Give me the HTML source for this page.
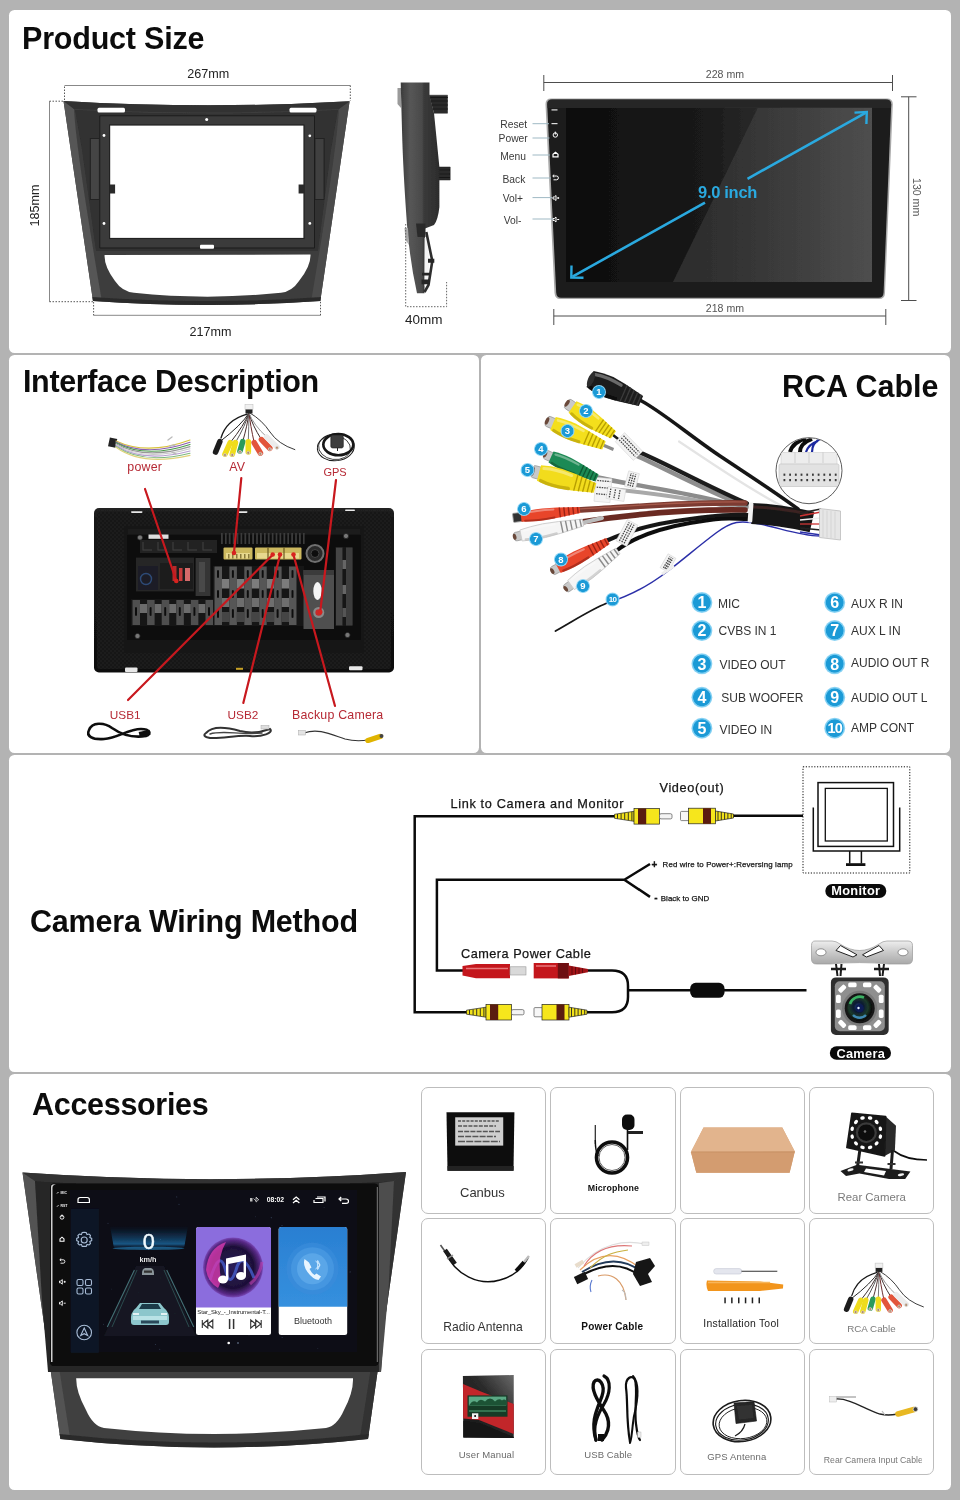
<!DOCTYPE html>
<html lang="en">
<head>
<meta charset="utf-8">
<title>Product Size, Interface Description, RCA Cable, Camera Wiring Method, Accessories</title>
<style>
html,body{margin:0;padding:0;}
body{width:960px;height:1500px;background:#b3b3b3;position:relative;overflow:hidden;font-family:"Liberation Sans",sans-serif;color:#111;}
.panel{position:absolute;background:#fff;border-radius:5.5px;}
.layer{will-change:transform;position:absolute;left:0;top:0;width:960px;height:1500px;overflow:hidden;}
svg text{font-family:"Liberation Sans",sans-serif;}
h2{will-change:transform;position:absolute;margin:0;font-weight:bold;font-size:30.5px;line-height:30px;color:#0c0c0c;white-space:nowrap;}
.card{position:absolute;width:124px;height:125px;border:1px solid #bdbdbd;border-radius:7px;background:#fff;box-sizing:content-box;}
.lbl{position:absolute;white-space:nowrap;line-height:1;}
</style>
</head>
<body>
<div class="panel" style="left:8.75px;top:10px;width:941.75px;height:342.8px;"></div>
<div class="panel" style="left:8.75px;top:354.8px;width:470.2px;height:398.6px;"></div>
<div class="panel" style="left:480.9px;top:354.8px;width:469.6px;height:398.6px;"></div>
<div class="panel" style="left:8.75px;top:755.4px;width:941.75px;height:316.2px;"></div>
<div class="panel" style="left:8.75px;top:1073.5px;width:941.75px;height:416px;"></div>
<h2 style="left:22px;top:23px;letter-spacing:-0.2px;">Product Size</h2>
<h2 style="left:22.6px;top:365.5px;letter-spacing:-0.36px;">Interface Description</h2>
<h2 style="left:782px;top:371px;">RCA Cable</h2>
<h2 style="left:29.5px;top:905.5px;letter-spacing:-0.2px;">Camera Wiring Method</h2>
<h2 style="left:32px;top:1088.5px;letter-spacing:-0.3px;">Accessories</h2>
<svg class="layer" viewBox="0 0 960 1500" width="960" height="1500">
<defs>
<linearGradient id="frG" x1="0" y1="0" x2="1" y2="0">
<stop offset="0" stop-color="#5b5b5b"/><stop offset="0.06" stop-color="#4a4a4a"/><stop offset="0.1" stop-color="#333"/><stop offset="0.5" stop-color="#3a3a3a"/><stop offset="0.9" stop-color="#323232"/><stop offset="0.95" stop-color="#444"/><stop offset="1" stop-color="#3a3a3a"/>
</linearGradient>
<linearGradient id="sideG" x1="0" y1="0" x2="1" y2="0">
<stop offset="0" stop-color="#3c3c3c"/><stop offset="0.25" stop-color="#565656"/><stop offset="0.55" stop-color="#4a4a4a"/><stop offset="0.6" stop-color="#3a3a3a"/><stop offset="1" stop-color="#2c2c2c"/>
</linearGradient>
<linearGradient id="scrG" x1="0" y1="0" x2="1" y2="0">
<stop offset="0" stop-color="#0d0d0d"/><stop offset="0.45" stop-color="#1a1a1a"/><stop offset="0.75" stop-color="#343434"/><stop offset="1" stop-color="#4b4b4b"/>
</linearGradient>
<linearGradient id="glossG" x1="0" y1="0" x2="1" y2="0">
<stop offset="0" stop-color="#fff" stop-opacity="0.10"/><stop offset="1" stop-color="#fff" stop-opacity="0.02"/>
</linearGradient>
<filter id="b05"><feGaussianBlur stdDeviation="0.5"/></filter>
<filter id="b1"><feGaussianBlur stdDeviation="1"/></filter>
</defs>
<!-- dimension dotted lines for frame -->
<g fill="none" stroke="#7a7a7a" stroke-width="0.9">
<path d="M64.5 85.5H350.3M49.5 101.2V301.7M93.6 315.3H320.5"/>
</g>
<g fill="none" stroke="#444" stroke-width="0.9" stroke-dasharray="1.5 1.5">
<path d="M64.5 100V85.5M350.3 85.5V101"/>
<path d="M63 101.2H49.5M49.5 301.7H93"/>
<path d="M93.6 302V315.3M320.5 315.3V301"/>
</g>
<!-- front frame -->
<g filter="url(#b05)">
<path d="M63.5 101 Q207 109.5 349.6 101.3 L320.3 301 Q207 309 93 301 Z M109.6 125 V238.5 H304 V125 Z M104.6 255 Q104 266 115 281 Q122 291.5 134 292.8 Q207 300.5 281 292.8 Q292 291.5 299 281 Q311 266 310.5 254.6 Z" fill="#3e3e3e" fill-rule="evenodd"/>
<path d="M63.5 101 L74 109 Q76 150 101.5 299 L93 301Z" fill="#565656"/>
<path d="M349.6 101.3 L339 109 Q337 150 311.5 299 L320.3 301Z" fill="#4c4c4c"/>
<path d="M63.5 101 Q207 109.5 349.6 101.3 L339 109 Q207 116 74 109Z" fill="#333"/>
<path d="M75 110 Q207 117 338 110 L331 150 L318 251 L96 251 L82 150Z M109.6 125 V238.5 H304 V125 Z" fill="#303030" fill-rule="evenodd"/>
<path d="M99.8 115.8 H314.5 V248 H99.8 Z M109.6 125 V238.5 H304 V125 Z" fill="#3b3b3b" fill-rule="evenodd"/>
<path d="M99.8 115.8 H314.5 V248 H99.8 Z" fill="none" stroke="#1e1e1e" stroke-width="1"/>
<rect x="109.6" y="125" width="194.4" height="113.5" fill="none" stroke="#222" stroke-width="1.2"/>
<rect x="90.3" y="138.5" width="9" height="61" fill="#454545" stroke="#1f1f1f" stroke-width="0.8"/>
<rect x="315" y="138.5" width="9" height="61" fill="#404040" stroke="#1f1f1f" stroke-width="0.8"/>
<rect x="109.6" y="184.5" width="5.5" height="9" fill="#2a2a2a"/><rect x="298.6" y="184.5" width="5.5" height="9" fill="#2a2a2a"/>
<g fill="#fff">
<rect x="97.5" y="107.8" width="27.5" height="4.6" rx="1.5"/>
<rect x="289.5" y="107.8" width="27" height="4.6" rx="1.5"/>
<rect x="200" y="244.8" width="14" height="4" rx="1"/>
<circle cx="206.7" cy="119.4" r="1.5"/><circle cx="104" cy="135.5" r="1.4"/><circle cx="104" cy="223.5" r="1.4"/><circle cx="309.8" cy="135.8" r="1.4"/><circle cx="309.8" cy="223.4" r="1.4"/>
</g>
<path d="M93 301 Q207 309 320.3 301 L321 297 Q207 305 92.5 297Z" fill="#2c2c2c"/>
</g>
<!-- side view -->
<g filter="url(#b05)">
<path d="M429 95.2H447.5V113.2H434 M439 167H450.2V180H439" fill="#2b2b2b" stroke="#222" stroke-width="0.5"/>
<path d="M430 97.5H448M430 101H448M430 105H448M430 109H448M439 170H450M439 174H450M439 177.5H450" stroke="#111" stroke-width="0.8"/>
<path d="M397.5 88 L401 88 L401 108 L397.5 104Z" fill="#9a9a9a"/>
<path d="M400.7 82.6 H429.5 V95 L434 113 L439.4 167 V207 Q438 220 434 225 L425 228.5 L424.5 293.2 H417 Q410 262 407 225 Q403 170 402 130 Z" fill="url(#sideG)"/>
<path d="M416 223.5 H425.5 V237 H417.5Z" fill="#2b2b2b"/>
<path d="M424.6 238 L427 238 L429.5 262 L427.5 284 L424.6 286Z" fill="#f4f4f4"/>
<path d="M426.3 232 L432.3 261 L428.5 285 L424.5 292" fill="none" stroke="#2e2e2e" stroke-width="2.6"/>
<path d="M428 258.8H434.3V262.8H428ZM422 272.8H429.6V275.4H422ZM421.5 279.6H429.6V284.2H421.5Z" fill="#262626"/>
<path d="M404.5 228 L408 228 L409 245 L405.5 240Z" fill="#aaa"/>
</g>
<g fill="none" stroke="#555" stroke-width="0.9" stroke-dasharray="1.5 1.5">
<path d="M405.7 224V306.7H446.6V282"/>
</g>
<!-- device -->
<g filter="url(#b05)">
<path d="M551 98.5 H887 Q893 98.5 892.8 104.5 L885 293 Q884.8 299 879 299 H560 Q555 299 554.5 293 L545.5 104.5 Q545.3 98.5 551 98.5Z" fill="#a8a8a8"/>
<path d="M552 99.6 H886 Q891.3 99.6 891.2 104.5 L883.6 292.5 Q883.4 297.8 878.5 297.8 H561 Q556.5 297.8 556.2 292.5 L547.2 104.5 Q547 99.6 552 99.6Z" fill="#1b1b1b"/>
<rect x="566" y="107.5" width="306" height="174.5" fill="url(#scrG)"/>
<path d="M758 107.5 H872 V282 H673 Z" fill="url(#glossG)"/>
<path d="M547.2 104.5 Q547 99.6 552 99.6 H886 Q891.3 99.6 891.2 104.5 L891 108 H547.4Z" fill="#2e2e2e" opacity="0.7"/>
</g>
<!-- device icons -->
<g fill="none" stroke="#fff" stroke-width="1">
<circle cx="555.3" cy="135" r="2.2"/><path d="M555.3 131.6v3" />
<path d="M553 156.8v-2.6l2.5-2 2.5 2v2.6z" stroke-width="1.2"/>
<path d="M553 176h3.5a1.9 1.9 0 0 1 0 3.8H553.5M554.2 174.6l-1.5 1.4 1.5 1.4" />
<path d="M553 197h1.3l1.7-1.5v5l-1.7-1.5H553zM557.2 198h2M558.2 197v2"/>
<path d="M553 218.5h1.3l1.7-1.5v5l-1.7-1.5H553zM557.2 219.5h2"/>
</g>
<g fill="#ddd"><rect x="551.5" y="109.3" width="6" height="1.2"/><rect x="551.5" y="123" width="6" height="1.2"/></g>
<!-- label leader lines -->
<g stroke="#9fb9c4" stroke-width="1">
<path d="M532.5 123.7H549M532.5 138H549.5M532.5 155H550M532.5 178H551M532.5 197.6H552M532.5 219H553"/>
</g>
<g font-size="10.3" fill="#3a3a3a">
<text x="500.3" y="127.5">Reset</text>
<text x="498.6" y="142.4">Power</text>
<text x="500.3" y="159.6">Menu</text>
<text x="502.5" y="182.6">Back</text>
<text x="502.8" y="202">Vol+</text>
<text x="503.8" y="223.8">Vol-</text>
</g>
<!-- arrow -->
<g fill="none" stroke="#2aa9df" stroke-width="2.6" stroke-linecap="butt">
<path d="M572.5 276.7 L705 202.6M747.5 178.8 L865.5 112.8"/>
<path d="M571.5 265.5 L571.3 277.6 L583.5 277.8" stroke-width="2.4"/>
<path d="M854.5 112.6 L866.8 112 L866.4 124" stroke-width="2.4"/>
</g>
<text x="698" y="197.6" font-size="16.5" font-weight="bold" fill="#2aa9df" letter-spacing="-0.3">9.0 inch</text>
<!-- device dims -->
<g stroke="#4d4d4d" stroke-width="1" fill="none">
<path d="M543.8 82.5H892.5M543.8 75V91M892.5 75V91"/>
<path d="M553.8 316H885.8M553.8 309V325M885.8 309V325"/>
<path d="M908.7 96.8V300.5M901 96.8H916.5M901 300.5H916.5"/>
</g>
<g font-size="10.6" fill="#555">
<text x="705.8" y="78">228 mm</text>
<text x="705.8" y="312">218 mm</text>
<text transform="translate(913.2 178) rotate(90)">130 mm</text>
</g>
<g font-size="12.6" fill="#222">
<text x="187.3" y="77.8">267mm</text>
<text x="189.4" y="335.8">217mm</text>
<text x="405" y="324.4" font-size="13.5">40mm</text>
<text transform="translate(38.8 226.5) rotate(-90)">185mm</text>
</g>
</svg>
<svg class="layer" viewBox="0 0 960 1500" width="960" height="1500">
<defs><pattern id="carb" width="4" height="4" patternUnits="userSpaceOnUse"><rect width="4" height="4" fill="#171717"/><rect width="2" height="2" fill="#1f1f1f"/><rect x="2" y="2" width="2" height="2" fill="#1d1d1d"/></pattern><linearGradient id="unitG" x1="0" y1="0" x2="0" y2="1"><stop offset="0" stop-color="#222"/><stop offset="0.08" stop-color="#151515"/><stop offset="1" stop-color="#101010"/></linearGradient></defs>
<g fill="none" stroke-linecap="round" filter="url(#b05)">
<rect x="109" y="438" width="7.5" height="9" fill="#222" stroke="none" transform="rotate(12 112 442)"/>
<path d="M116 441.0 C135 450.0 160 451.0 190 440.0" stroke="#d8c23a" stroke-width="1.1"/>
<path d="M116 441.9 C135 451.6 160 452.6 190 442.2" stroke="#8a5fb0" stroke-width="1.1"/>
<path d="M116 442.8 C135 453.2 160 454.2 190 444.4" stroke="#4a9a4a" stroke-width="1.1"/>
<path d="M116 443.7 C135 454.8 160 455.8 190 446.6" stroke="#999" stroke-width="1.1"/>
<path d="M116 444.6 C135 456.4 160 457.4 190 448.8" stroke="#c9c9c9" stroke-width="1.1"/>
<path d="M116 445.5 C135 458.0 160 459.0 190 451.0" stroke="#b7a0d0" stroke-width="1.1"/>
<path d="M116 446.4 C135 459.6 160 460.6 190 453.2" stroke="#7fb87f" stroke-width="1.1"/>
<path d="M116 447.3 C135 461.2 160 462.2 190 455.4" stroke="#e0d27a" stroke-width="1.1"/>
<path d="M168 440l4-3M170 446l5-1M172 452l4 2" stroke="#bbb" stroke-width="1.4"/>
</g>
<g filter="url(#b05)"><g fill="none" stroke-linecap="round"><path d="M249.0 413.0 Q241.7 425.0 219.8 441.7" stroke="#222" stroke-width="1.00"/><path d="M249.0 413.0 Q244.3 425.0 230.2 442.7" stroke="#3a2a2a" stroke-width="1.00"/><path d="M249.0 413.0 Q245.6 425.0 235.4 442.7" stroke="#555" stroke-width="1.00"/><path d="M249.0 413.0 Q247.4 425.0 242.7 441.7" stroke="#4a3030" stroke-width="1.00"/><path d="M249.0 413.0 Q248.8 425.0 248.3 441.7" stroke="#777" stroke-width="1.00"/><path d="M249.0 413.0 Q250.3 425.0 254.2 442.7" stroke="#6a2a2a" stroke-width="1.00"/><path d="M249.0 413.0 Q252.1 425.0 261.5 439.6" stroke="#3a2a2a" stroke-width="1.00"/><path d="M249.0 413.0 Q253.4 425.0 266.7 437.0" stroke="#999" stroke-width="1.00"/><path d="M250.0 413.0 Q262.0 420.0 270.0 432.0 T294.8 449.6" stroke="#222" stroke-width="0.90"/><path d="M247.0 414.0 Q226.0 420.0 221.0 438.0" stroke="#1a1a1a" stroke-width="1.30"/><path d="M219.8 441.7L215.6 452.0" stroke="#1e1e1e" stroke-width="5.60"/><path d="M230.2 442.7L225.0 454.2" stroke="#efdc1a" stroke-width="5.60"/><circle cx="225.0" cy="455.0" r="1.50" fill="#b08a6a" stroke="#ddd" stroke-width="0.600"/><path d="M235.4 442.7L232.3 454.2" stroke="#efdc1a" stroke-width="5.60"/><circle cx="232.3" cy="455.0" r="1.50" fill="#b08a6a" stroke="#ddd" stroke-width="0.600"/><path d="M242.7 441.7L240.0 451.0" stroke="#2a9a5c" stroke-width="5.60"/><circle cx="240.0" cy="451.8" r="1.50" fill="#b08a6a" stroke="#ddd" stroke-width="0.600"/><path d="M248.3 441.7L248.3 452.0" stroke="#efdc1a" stroke-width="5.60"/><circle cx="248.3" cy="452.8" r="1.50" fill="#b08a6a" stroke="#ddd" stroke-width="0.600"/><path d="M254.2 442.7L260.4 453.0" stroke="#e2543a" stroke-width="5.60"/><circle cx="260.4" cy="453.8" r="1.50" fill="#b08a6a" stroke="#ddd" stroke-width="0.600"/><path d="M261.5 439.6L269.8 448.3" stroke="#e2543a" stroke-width="5.60"/><circle cx="269.8" cy="449.1" r="1.50" fill="#b08a6a" stroke="#ddd" stroke-width="0.600"/><path d="M266.7 437.0L277.0 446.9" stroke="#ececec" stroke-width="5.60"/><circle cx="277.0" cy="447.7" r="1.50" fill="#b08a6a" stroke="#ddd" stroke-width="0.600"/><rect x="245.0" y="404.5" width="8.0" height="5.0" fill="#f0f0f0" stroke="#bbb" stroke-width="0.500"/><rect x="245.5" y="409.5" width="7.0" height="4.0" fill="#222"/></g></g>
<g fill="none" filter="url(#b05)"><ellipse cx="335.800" cy="447.200" rx="18.500" ry="13.500" stroke="#1a1a1a" stroke-width="1" transform="rotate(-6 335.800 447.200)"/><ellipse cx="334.500" cy="447.500" rx="16" ry="12" stroke="#222" stroke-width="0.800" transform="rotate(8 334.500 447.500)"/><ellipse cx="338.300" cy="444.600" rx="15" ry="10.600" stroke="#151515" stroke-width="2.600"/><rect x="330.800" y="435" width="12.500" height="13" rx="1.800" fill="#3c3c3c" stroke="#1a1a1a" stroke-width="0.600"/><path d="M337.500 448v3" stroke="#222" stroke-width="1"/></g>
<g filter="url(#b05)">
<rect x="94" y="508" width="300" height="164.500" rx="5" fill="url(#unitG)"/>
<rect x="97" y="512" width="294" height="157" rx="3" fill="url(#carb)" opacity="0.9"/><rect x="124" y="525.500" width="240" height="128" fill="#161616"/>
<rect x="127.500" y="528.500" width="233" height="122" fill="#0b0b0b"/>
<rect x="127.500" y="528.500" width="233" height="6" fill="#1c1c1c"/>
<rect x="127.500" y="640" width="233" height="10.500" fill="#161616"/>
<rect x="140" y="540" width="77" height="13" fill="#202020"/>
<path d="M143 542v8h9" fill="none" stroke="#3a3a3a" stroke-width="1.3"/>
<path d="M158 542v8h9" fill="none" stroke="#3a3a3a" stroke-width="1.3"/>
<path d="M173 542v8h9" fill="none" stroke="#3a3a3a" stroke-width="1.3"/>
<path d="M188 542v8h9" fill="none" stroke="#3a3a3a" stroke-width="1.3"/>
<path d="M203 542v8h9" fill="none" stroke="#3a3a3a" stroke-width="1.3"/>
<rect x="221.0" y="533" width="1.800" height="11" fill="#3a3a3a"/>
<rect x="224.9" y="533" width="1.800" height="11" fill="#3a3a3a"/>
<rect x="228.8" y="533" width="1.800" height="11" fill="#3a3a3a"/>
<rect x="232.7" y="533" width="1.800" height="11" fill="#3a3a3a"/>
<rect x="236.6" y="533" width="1.800" height="11" fill="#3a3a3a"/>
<rect x="240.5" y="533" width="1.800" height="11" fill="#3a3a3a"/>
<rect x="244.4" y="533" width="1.800" height="11" fill="#3a3a3a"/>
<rect x="248.3" y="533" width="1.800" height="11" fill="#3a3a3a"/>
<rect x="252.2" y="533" width="1.800" height="11" fill="#3a3a3a"/>
<rect x="256.1" y="533" width="1.800" height="11" fill="#3a3a3a"/>
<rect x="260.0" y="533" width="1.800" height="11" fill="#3a3a3a"/>
<rect x="263.9" y="533" width="1.800" height="11" fill="#3a3a3a"/>
<rect x="267.8" y="533" width="1.800" height="11" fill="#3a3a3a"/>
<rect x="271.7" y="533" width="1.800" height="11" fill="#3a3a3a"/>
<rect x="275.6" y="533" width="1.800" height="11" fill="#3a3a3a"/>
<rect x="279.5" y="533" width="1.800" height="11" fill="#3a3a3a"/>
<rect x="283.4" y="533" width="1.800" height="11" fill="#3a3a3a"/>
<rect x="287.3" y="533" width="1.800" height="11" fill="#3a3a3a"/>
<rect x="291.2" y="533" width="1.800" height="11" fill="#3a3a3a"/>
<rect x="295.1" y="533" width="1.800" height="11" fill="#3a3a3a"/>
<rect x="299.0" y="533" width="1.800" height="11" fill="#3a3a3a"/>
<rect x="302.9" y="533" width="1.800" height="11" fill="#3a3a3a"/>
<rect x="223.500" y="547.500" width="29" height="12" rx="1" fill="#cdb95e"/><rect x="226" y="553" width="24" height="5.500" fill="#e7d88e"/>
<rect x="255" y="547.500" width="46.500" height="12" rx="1" fill="#cdb95e"/><rect x="257" y="553" width="42" height="5.500" fill="#e7d88e"/>
<path d="M268 547.500v12M284 547.500v12" stroke="#6b5a20" stroke-width="1.2"/>
<rect x="228" y="554" width="1.500" height="4.500" fill="#8a7a3a"/>
<rect x="232" y="554" width="1.500" height="4.500" fill="#8a7a3a"/>
<rect x="236" y="554" width="1.500" height="4.500" fill="#8a7a3a"/>
<rect x="240" y="554" width="1.500" height="4.500" fill="#8a7a3a"/>
<rect x="244" y="554" width="1.500" height="4.500" fill="#8a7a3a"/>
<rect x="248" y="554" width="1.500" height="4.500" fill="#8a7a3a"/>
<circle cx="315" cy="553.500" r="8.500" fill="#2a2a2a" stroke="#707070" stroke-width="2"/><circle cx="315" cy="553.500" r="4" fill="#0a0a0a" stroke="#444" stroke-width="1"/>
<rect x="136" y="557.500" width="58" height="34" fill="#262626"/><rect x="138" y="566" width="20" height="24" fill="#1b1f26"/>
<circle cx="146" cy="579" r="5.500" fill="none" stroke="#2f4a78" stroke-width="1.4"/>
<rect x="160" y="563" width="33" height="26" fill="#1a1a1a"/>
<rect x="172.500" y="566" width="4" height="15" fill="#b52a2a"/><rect x="179" y="568" width="3.500" height="13" fill="#c83a3a"/><rect x="185" y="568" width="5" height="13" fill="#d56a6a"/>
<rect x="195.500" y="558" width="15" height="38" fill="#343434"/><rect x="199" y="562" width="6" height="30" fill="#4a4a4a"/>
<rect x="213" y="566" width="91" height="60" fill="#151515"/>
<rect x="214.5" y="566.500" width="7.500" height="58.500" fill="#565656"/>
<rect x="217.0" y="570" width="2" height="8" rx="1" fill="#111"/>
<rect x="217.0" y="590" width="2" height="8" rx="1" fill="#111"/>
<rect x="217.0" y="609" width="2" height="9" rx="1" fill="#111"/>
<rect x="222.0" y="579" width="7.400" height="9.500" fill="#7c7c7c"/>
<rect x="222.0" y="598" width="7.400" height="9" fill="#6e6e6e"/>
<rect x="222.0" y="612" width="7.400" height="10" fill="#444"/>
<rect x="229.4" y="566.500" width="7.500" height="58.500" fill="#565656"/>
<rect x="231.9" y="570" width="2" height="8" rx="1" fill="#111"/>
<rect x="231.9" y="590" width="2" height="8" rx="1" fill="#111"/>
<rect x="231.9" y="609" width="2" height="9" rx="1" fill="#111"/>
<rect x="236.9" y="579" width="7.400" height="9.500" fill="#7c7c7c"/>
<rect x="236.9" y="598" width="7.400" height="9" fill="#6e6e6e"/>
<rect x="236.9" y="612" width="7.400" height="10" fill="#444"/>
<rect x="244.3" y="566.500" width="7.500" height="58.500" fill="#565656"/>
<rect x="246.8" y="570" width="2" height="8" rx="1" fill="#111"/>
<rect x="246.8" y="590" width="2" height="8" rx="1" fill="#111"/>
<rect x="246.8" y="609" width="2" height="9" rx="1" fill="#111"/>
<rect x="251.8" y="579" width="7.400" height="9.500" fill="#7c7c7c"/>
<rect x="251.8" y="598" width="7.400" height="9" fill="#6e6e6e"/>
<rect x="251.8" y="612" width="7.400" height="10" fill="#444"/>
<rect x="259.2" y="566.500" width="7.500" height="58.500" fill="#565656"/>
<rect x="261.7" y="570" width="2" height="8" rx="1" fill="#111"/>
<rect x="261.7" y="590" width="2" height="8" rx="1" fill="#111"/>
<rect x="261.7" y="609" width="2" height="9" rx="1" fill="#111"/>
<rect x="266.7" y="579" width="7.400" height="9.500" fill="#7c7c7c"/>
<rect x="266.7" y="598" width="7.400" height="9" fill="#6e6e6e"/>
<rect x="266.7" y="612" width="7.400" height="10" fill="#444"/>
<rect x="274.1" y="566.500" width="7.500" height="58.500" fill="#565656"/>
<rect x="276.6" y="570" width="2" height="8" rx="1" fill="#111"/>
<rect x="276.6" y="590" width="2" height="8" rx="1" fill="#111"/>
<rect x="276.6" y="609" width="2" height="9" rx="1" fill="#111"/>
<rect x="281.6" y="579" width="7.400" height="9.500" fill="#7c7c7c"/>
<rect x="281.6" y="598" width="7.400" height="9" fill="#6e6e6e"/>
<rect x="281.6" y="612" width="7.400" height="10" fill="#444"/>
<rect x="289.0" y="566.500" width="7.500" height="58.500" fill="#565656"/>
<rect x="291.5" y="570" width="2" height="8" rx="1" fill="#111"/>
<rect x="291.5" y="590" width="2" height="8" rx="1" fill="#111"/>
<rect x="291.5" y="609" width="2" height="9" rx="1" fill="#111"/>
<rect x="131" y="599" width="82" height="27" fill="#151515"/>
<rect x="132.5" y="600" width="7.500" height="25" fill="#505050"/>
<rect x="135.0" y="607" width="2" height="9" rx="1" fill="#111"/>
<rect x="140.0" y="604" width="7" height="9" fill="#6c6c6c"/>
<rect x="147.1" y="600" width="7.500" height="25" fill="#505050"/>
<rect x="149.6" y="607" width="2" height="9" rx="1" fill="#111"/>
<rect x="154.6" y="604" width="7" height="9" fill="#6c6c6c"/>
<rect x="161.7" y="600" width="7.500" height="25" fill="#505050"/>
<rect x="164.2" y="607" width="2" height="9" rx="1" fill="#111"/>
<rect x="169.2" y="604" width="7" height="9" fill="#6c6c6c"/>
<rect x="176.3" y="600" width="7.500" height="25" fill="#505050"/>
<rect x="178.8" y="607" width="2" height="9" rx="1" fill="#111"/>
<rect x="183.8" y="604" width="7" height="9" fill="#6c6c6c"/>
<rect x="190.9" y="600" width="7.500" height="25" fill="#505050"/>
<rect x="193.4" y="607" width="2" height="9" rx="1" fill="#111"/>
<rect x="198.4" y="604" width="7" height="9" fill="#6c6c6c"/>
<rect x="205.5" y="600" width="7.500" height="25" fill="#505050"/>
<rect x="208.0" y="607" width="2" height="9" rx="1" fill="#111"/>
<rect x="303.500" y="570" width="30.500" height="59" fill="#505050"/><rect x="303.500" y="570" width="30.500" height="5" fill="#3a3a3a"/>
<ellipse cx="317.500" cy="591" rx="4.200" ry="9" fill="#f4f4f4"/>
<circle cx="318.700" cy="612.500" r="5.500" fill="#8a8a8a"/><circle cx="318.700" cy="612.500" r="3.300" fill="#c62a2a"/>
<rect x="335" y="547" width="18.500" height="79" fill="#151515"/>
<rect x="336" y="547.500" width="6.500" height="78" fill="#444"/><rect x="346" y="547.500" width="6.500" height="78" fill="#3e3e3e"/>
<rect x="342.500" y="560" width="3.500" height="9" fill="#666"/><rect x="342.500" y="585" width="3.500" height="9" fill="#666"/><rect x="342.500" y="608" width="3.500" height="9" fill="#555"/>
<circle cx="140" cy="537.5" r="2.600" fill="#777" stroke="#222" stroke-width="0.8"/>
<circle cx="137.5" cy="636" r="2.600" fill="#777" stroke="#222" stroke-width="0.8"/>
<circle cx="346" cy="536" r="2.600" fill="#777" stroke="#222" stroke-width="0.8"/>
<circle cx="347.5" cy="635" r="2.600" fill="#777" stroke="#222" stroke-width="0.8"/>
<rect x="148.500" y="534.500" width="20" height="4.300" fill="#ddd"/>
<g fill="#e8e8e8"><rect x="131" y="511.300" width="11.500" height="1.600" rx="0.800"/><rect x="237.500" y="511.300" width="10" height="1.600" rx="0.800"/><rect x="345" y="509.500" width="10" height="1.600" rx="0.800"/><rect x="125" y="667.500" width="12.500" height="4.500" rx="1"/><rect x="349" y="666.300" width="13.500" height="4" rx="1"/></g>
<rect x="236" y="667.800" width="7" height="2" fill="#c9a227"/>
</g>
<g stroke="#c8181e" stroke-width="2.2" stroke-linecap="round" fill="none">
<path d="M145 489L176 580M241.300 478L234 552.500M336 480L320.300 611M128 700L272.500 555M243.300 703L280 555M335 706L293.500 555"/>
</g>
<g fill="#d8231f"><circle cx="176.300" cy="581" r="2.300"/><circle cx="234" cy="553" r="2.300"/><circle cx="320.300" cy="612" r="2.300"/><circle cx="272.700" cy="554.500" r="2.300"/><circle cx="280" cy="554.500" r="2.300"/><circle cx="293.500" cy="554.500" r="2.300"/></g>
<g font-size="12.400" fill="#b62a35" letter-spacing="0.200">
<text x="127.300" y="471">power</text><text x="229.300" y="471">AV</text><text x="323.500" y="475.600" font-size="11" letter-spacing="-0.1">GPS</text>
<text x="109.800" y="719" font-size="11.8" letter-spacing="0">USB1</text><text x="227.500" y="719" font-size="11.8" letter-spacing="0">USB2</text><text x="292" y="719">Backup Camera</text>
</g>
<g fill="none" stroke-linecap="round" filter="url(#b05)">
<path d="M89 730 C92 722 104 722 112 728 C122 735 134 738 146 736 C152 734 150 729 141 729 C128 729 118 738 104 739 C92 740 86 736 89 730Z" stroke="#111" stroke-width="2.600"/>
<rect x="139" y="731" width="11" height="5" fill="#111" transform="rotate(-12 144 733)"/>
<path d="M206 733 C212 726 226 727 240 731 C252 734 262 732 270 729 C274 733 262 737 250 736 C236 735 222 739 210 738 C204 737 203 735 206 733Z" stroke="#333" stroke-width="2"/><path d="M210 734 C222 730 240 735 262 733" stroke="#444" stroke-width="1.400" fill="none"/>
<rect x="261" y="725.500" width="8" height="3.500" fill="#ddd" stroke="#aaa" stroke-width="0.500"/>
<path d="M304 733 C318 728 330 734 345 739 C356 742 362 741 368 740" stroke="#333" stroke-width="1.100"/>
<rect x="298.500" y="730.500" width="7" height="4.500" fill="#e4e4e4" stroke="#aaa" stroke-width="0.500"/>
<path d="M368 740.500 L380 736.500" stroke="#e0b400" stroke-width="5.500"/><circle cx="381.500" cy="736" r="2" fill="#444"/>
</g>
</svg>
<svg class="layer" viewBox="0 0 960 1500" width="960" height="1500">
<defs>
<radialGradient id="bdg" cx="0.5" cy="0.5" r="0.5"><stop offset="0" stop-color="#1b9ad6"/><stop offset="0.8" stop-color="#1b9ad6"/><stop offset="0.86" stop-color="#6ec6ee"/><stop offset="1" stop-color="#9fdcf7"/></radialGradient>
</defs>
<g filter="url(#b05)">
<g fill="none" stroke-linecap="round" stroke-linejoin="round">
<path d="M638 399 C660 410 690 436 720 456 S775 492 798 509" stroke="#151515" stroke-width="3.600"/>
<path d="M613 435 L622 442" stroke="#1a1a1a" stroke-width="2.600"/>
<path d="M637 456 C660 466 700 488 747 507" stroke="#8e8e8e" stroke-width="4.600"/>
<path d="M636 451 C660 460 700 483 747 503.500" stroke="#1c1c1c" stroke-width="4.200"/><path d="M679 441.500 C710 462 750 490 782 506" stroke="#e4e4e4" stroke-width="2.200"/>
<path d="M596 477 C620 483 660 488 700 497 S730 503 745 508" stroke="#8c8c8c" stroke-width="4.500"/>
<path d="M594 487 C620 490 660 494 700 501 S730 507 745 511" stroke="#a9a9a9" stroke-width="4"/>
<path d="M578 510 C620 508 680 502 745 503" stroke="#7d3b30" stroke-width="5.600"/>
<path d="M581 522 C620 516 680 509 745 510" stroke="#6a2c24" stroke-width="5.600"/>
<path d="M578 509 C620 507 680 501 745 502" stroke="#a65a4c" stroke-width="1.200"/>
<path d="M582 523 L602 518" stroke="#bbb" stroke-width="4"/>
<path d="M606 541 C625 532 650 524 690 519 S730 515 750 515" stroke="#181818" stroke-width="4.200"/>
<path d="M616 551 C630 540 650 530 690 523 S730 519 750 519" stroke="#101010" stroke-width="4"/>
<path d="M555.500 631 C575 620 590 610 607 603" stroke="#151515" stroke-width="1.800"/>
<path d="M607 603 C630 596 650 585 668 571 S700 545 716 533 S740 520 760 524 S800 536 820 536" stroke="#2b2fa8" stroke-width="1.500"/>
</g>
<g transform="translate(629 446.5) rotate(46)"><rect x="-13.0" y="-6.5" width="26" height="13" fill="#f4f4f4" stroke="#d0d0d0" stroke-width="0.500"/><path d="M-11.5 -3.5H11.5" stroke="#444" stroke-width="1.300" stroke-dasharray="1.5 1"/><path d="M-11.5 -0.5H11.5" stroke="#444" stroke-width="1.300" stroke-dasharray="1.5 1"/><path d="M-11.5 2.5H11.5" stroke="#444" stroke-width="1.300" stroke-dasharray="1.5 1"/></g>
<g transform="translate(603 490) rotate(5)"><rect x="-8.0" y="-12.0" width="16" height="24" fill="#f4f4f4" stroke="#d0d0d0" stroke-width="0.500"/><path d="M-6.5 -9.0H6.5" stroke="#444" stroke-width="1.300" stroke-dasharray="1.5 1"/><path d="M-6.5 -2.3H6.5" stroke="#444" stroke-width="1.300" stroke-dasharray="1.5 1"/><path d="M-6.5 4.3H6.5" stroke="#444" stroke-width="1.300" stroke-dasharray="1.5 1"/></g>
<g transform="translate(616 494) rotate(-80)"><rect x="-6.0" y="-9.0" width="12" height="18" fill="#f4f4f4" stroke="#d0d0d0" stroke-width="0.500"/><path d="M-4.5 -6.0H4.5" stroke="#444" stroke-width="1.300" stroke-dasharray="1.5 1"/><path d="M-4.5 -1.3H4.5" stroke="#444" stroke-width="1.300" stroke-dasharray="1.5 1"/><path d="M-4.5 3.3H4.5" stroke="#444" stroke-width="1.300" stroke-dasharray="1.5 1"/></g>
<g transform="translate(632 480) rotate(-75)"><rect x="-8.0" y="-5.5" width="16" height="11" fill="#f4f4f4" stroke="#d0d0d0" stroke-width="0.500"/><path d="M-6.5 -2.5H6.5" stroke="#444" stroke-width="1.300" stroke-dasharray="1.5 1"/><path d="M-6.5 -0.2H6.5" stroke="#444" stroke-width="1.300" stroke-dasharray="1.5 1"/><path d="M-6.5 2.2H6.5" stroke="#444" stroke-width="1.300" stroke-dasharray="1.5 1"/></g>
<g transform="translate(627 533) rotate(-62)"><rect x="-12.0" y="-6.0" width="24" height="12" fill="#f4f4f4" stroke="#d0d0d0" stroke-width="0.500"/><path d="M-10.5 -3.0H10.5" stroke="#444" stroke-width="1.300" stroke-dasharray="1.5 1"/><path d="M-10.5 -0.3H10.5" stroke="#444" stroke-width="1.300" stroke-dasharray="1.5 1"/><path d="M-10.5 2.3H10.5" stroke="#444" stroke-width="1.300" stroke-dasharray="1.5 1"/></g>
<g transform="translate(668 563) rotate(-60)"><rect x="-8.0" y="-4.5" width="16" height="9" fill="#f4f4f4" stroke="#d0d0d0" stroke-width="0.500"/><path d="M-6.5 -1.5H6.5" stroke="#444" stroke-width="1.300" stroke-dasharray="1.5 1"/><path d="M-6.5 0.2H6.5" stroke="#444" stroke-width="1.300" stroke-dasharray="1.5 1"/><path d="M-6.5 1.8H6.5" stroke="#444" stroke-width="1.300" stroke-dasharray="1.5 1"/></g>
<path d="M662 574l12-8" stroke="#eee" stroke-width="3"/>
<path d="M751.500 513.500 C770 514 790 517 812 522" stroke="#181818" stroke-width="21" fill="none"/><path d="M753 507 C770 507.500 790 510 808 514" stroke="#3a2420" stroke-width="3" fill="none"/>

<rect x="748.300" y="502.500" width="4.600" height="20" rx="1.500" fill="#f2f2f2" transform="rotate(4 750 512)"/>
<g fill="none" stroke-width="1.300"><path d="M800 516L821 512" stroke="#c33"/><path d="M800 520L821 518" stroke="#eee"/><path d="M800 524L821 524" stroke="#c33"/><path d="M800 528L821 530" stroke="#222"/><path d="M800 532L821 535" stroke="#2b2fa8"/><path d="M800 513L821 509" stroke="#222"/></g>
<path d="M819.500 508.500 L840.500 511 L840.500 540 L819.500 537.500Z" fill="#e6e6e6" stroke="#bdbdbd" stroke-width="0.800"/>
<path d="M823 510v27M827 510.500v27M831 511v27M835 511.500v27" stroke="#cfcfcf" stroke-width="0.800"/>
<g transform="translate(590 379) rotate(23.3)"><path d="M0 -8.8 Q8.6 -11.0 20.7 -11.0 L34.4 -9.3 L55.5 -5.5 L55.5 5.5 L34.4 9.3 L20.7 11.0 Q8.6 11.0 0 8.8 Z" fill="#1c1c1c" stroke="none" stroke-width="0.800"/><path d="M3.4 -6.1 Q13.8 -8.8 31.0 -6.6" stroke="#fff" stroke-opacity="0.35" stroke-width="3.3" fill="none" stroke-linecap="round"/><path d="M3.4 7.7 Q13.8 10.4 31.0 8.2" stroke="#000" stroke-width="3.8" fill="none" stroke-linecap="round" opacity="0.7"/><path d="M36.5 -9.0V9.0" stroke="#3a3a3a" stroke-width="1.400"/><path d="M40.8 -8.2V8.2" stroke="#3a3a3a" stroke-width="1.400"/><path d="M45.0 -7.4V7.4" stroke="#3a3a3a" stroke-width="1.400"/><path d="M49.2 -6.7V6.7" stroke="#3a3a3a" stroke-width="1.400"/><path d="M53.4 -5.9V5.9" stroke="#3a3a3a" stroke-width="1.400"/></g>
<ellipse cx="591" cy="379.500" rx="3" ry="8" fill="#2e2e2e" transform="rotate(23 591 379.500)"/>
<g transform="translate(572.5 407) rotate(34.3)"><rect x="-7" y="-5.4" width="9" height="10.8" rx="2" fill="#c9c9c9" stroke="#8a8a8a" stroke-width="0.600"/><ellipse cx="-6.500" cy="0" rx="1.800" ry="3.9" fill="#6b4a3a"/><path d="M0 -7.0 Q7.7 -8.8 18.5 -8.8 L30.8 -7.4 L49.6 -4.4 L49.6 4.4 L30.8 7.4 L18.5 8.8 Q7.7 8.8 0 7.0 Z" fill="#f4df1c" stroke="none" stroke-width="0.800"/><path d="M3.1 -4.8 Q12.3 -7.0 27.7 -5.2" stroke="#fff" stroke-opacity="0.35" stroke-width="2.6" fill="none" stroke-linecap="round"/><path d="M3.1 6.1 Q12.3 8.3 27.7 6.6" stroke="#b89f00" stroke-width="3.1" fill="none" stroke-linecap="round" opacity="0.7"/><path d="M32.7 -7.1V7.1" stroke="#b89f00" stroke-width="1.400"/><path d="M36.4 -6.5V6.5" stroke="#b89f00" stroke-width="1.400"/><path d="M40.2 -5.9V5.9" stroke="#b89f00" stroke-width="1.400"/><path d="M44.0 -5.3V5.3" stroke="#b89f00" stroke-width="1.400"/><path d="M47.8 -4.7V4.7" stroke="#b89f00" stroke-width="1.400"/></g>
<path d="M603 445L613.500 449.500" stroke="#8a8a8a" stroke-width="3"/>
<g transform="translate(553 423.5) rotate(23.3)"><rect x="-7" y="-5.4" width="9" height="10.8" rx="2" fill="#c9c9c9" stroke="#8a8a8a" stroke-width="0.600"/><ellipse cx="-6.500" cy="0" rx="1.800" ry="3.9" fill="#6b4a3a"/><path d="M0 -7.0 Q8.6 -8.8 20.7 -8.8 L34.4 -7.4 L55.5 -4.4 L55.5 4.4 L34.4 7.4 L20.7 8.8 Q8.6 8.8 0 7.0 Z" fill="#f4df1c" stroke="none" stroke-width="0.800"/><path d="M3.4 -4.8 Q13.8 -7.0 31.0 -5.2" stroke="#fff" stroke-opacity="0.35" stroke-width="2.6" fill="none" stroke-linecap="round"/><path d="M3.4 6.1 Q13.8 8.3 31.0 6.6" stroke="#b89f00" stroke-width="3.1" fill="none" stroke-linecap="round" opacity="0.7"/><path d="M36.5 -7.1V7.1" stroke="#b89f00" stroke-width="1.400"/><path d="M40.8 -6.5V6.5" stroke="#b89f00" stroke-width="1.400"/><path d="M45.0 -5.9V5.9" stroke="#b89f00" stroke-width="1.400"/><path d="M49.2 -5.3V5.3" stroke="#b89f00" stroke-width="1.400"/><path d="M53.4 -4.7V4.7" stroke="#b89f00" stroke-width="1.400"/></g>
<g transform="translate(551 457) rotate(24.5)"><rect x="-7" y="-4.7" width="9" height="9.3" rx="2" fill="#c9c9c9" stroke="#8a8a8a" stroke-width="0.600"/><ellipse cx="-6.500" cy="0" rx="1.800" ry="3.4" fill="#6b4a3a"/><path d="M0 -6.0 Q7.8 -7.5 18.8 -7.5 L31.4 -6.4 L50.6 -3.8 L50.6 3.8 L31.4 6.4 L18.8 7.5 Q7.8 7.5 0 6.0 Z" fill="#1f8a54" stroke="none" stroke-width="0.800"/><path d="M3.1 -4.1 Q12.5 -6.0 28.2 -4.5" stroke="#fff" stroke-opacity="0.35" stroke-width="2.2" fill="none" stroke-linecap="round"/><path d="M3.1 5.2 Q12.5 7.1 28.2 5.6" stroke="#0e5a33" stroke-width="2.6" fill="none" stroke-linecap="round" opacity="0.7"/><path d="M33.3 -6.1V6.1" stroke="#0e5a33" stroke-width="1.400"/><path d="M37.1 -5.6V5.6" stroke="#0e5a33" stroke-width="1.400"/><path d="M41.0 -5.1V5.1" stroke="#0e5a33" stroke-width="1.400"/><path d="M44.8 -4.5V4.5" stroke="#0e5a33" stroke-width="1.400"/><path d="M48.6 -4.0V4.0" stroke="#0e5a33" stroke-width="1.400"/></g>
<g transform="translate(539 473) rotate(15.0)"><rect x="-7" y="-6.2" width="9" height="12.4" rx="2" fill="#c9c9c9" stroke="#8a8a8a" stroke-width="0.600"/><ellipse cx="-6.500" cy="0" rx="1.800" ry="4.5" fill="#6b4a3a"/><path d="M0 -8.0 Q9.0 -10.0 21.6 -10.0 L35.9 -8.5 L58.0 -5.0 L58.0 5.0 L35.9 8.5 L21.6 10.0 Q9.0 10.0 0 8.0 Z" fill="#f2dc1e" stroke="none" stroke-width="0.800"/><path d="M3.6 -5.5 Q14.4 -8.0 32.3 -6.0" stroke="#fff" stroke-opacity="0.35" stroke-width="3.0" fill="none" stroke-linecap="round"/><path d="M3.6 7.0 Q14.4 9.5 32.3 7.5" stroke="#b89f00" stroke-width="3.5" fill="none" stroke-linecap="round" opacity="0.7"/><path d="M38.1 -8.1V8.1" stroke="#b89f00" stroke-width="1.400"/><path d="M42.6 -7.5V7.5" stroke="#b89f00" stroke-width="1.400"/><path d="M47.0 -6.8V6.8" stroke="#b89f00" stroke-width="1.400"/><path d="M51.4 -6.0V6.0" stroke="#b89f00" stroke-width="1.400"/><path d="M55.8 -5.3V5.3" stroke="#b89f00" stroke-width="1.400"/></g>
<g transform="translate(521 517) rotate(-6.8)"><rect x="-8" y="-4.5" width="10" height="9.0" rx="1" fill="#333" stroke="#999" stroke-width="0.800"/><path d="M0 -4.8 Q9.2 -6.0 22.1 -6.0 L36.8 -5.1 L59.4 -3.0 L59.4 3.0 L36.8 5.1 L22.1 6.0 Q9.2 6.0 0 4.8 Z" fill="#e8452c" stroke="none" stroke-width="0.800"/><path d="M3.7 -3.3 Q14.7 -4.8 33.2 -3.6" stroke="#fff" stroke-opacity="0.35" stroke-width="1.8" fill="none" stroke-linecap="round"/><path d="M3.7 4.2 Q14.7 5.7 33.2 4.5" stroke="#9a2414" stroke-width="2.1" fill="none" stroke-linecap="round" opacity="0.7"/><path d="M39.1 -4.9V4.9" stroke="#9a2414" stroke-width="1.400"/><path d="M43.6 -4.5V4.5" stroke="#9a2414" stroke-width="1.400"/><path d="M48.1 -4.1V4.1" stroke="#9a2414" stroke-width="1.400"/><path d="M52.6 -3.6V3.6" stroke="#9a2414" stroke-width="1.400"/><path d="M57.2 -3.2V3.2" stroke="#9a2414" stroke-width="1.400"/></g>
<g transform="translate(521 535.5) rotate(-11.8)"><rect x="-7" y="-4.3" width="9" height="8.7" rx="2" fill="#c9c9c9" stroke="#8a8a8a" stroke-width="0.600"/><ellipse cx="-6.500" cy="0" rx="1.800" ry="3.1" fill="#6b4a3a"/><path d="M0 -5.6 Q9.8 -7.0 23.6 -7.0 L39.3 -6.0 L63.3 -3.5 L63.3 3.5 L39.3 6.0 L23.6 7.0 Q9.8 7.0 0 5.6 Z" fill="#f5f5f5" stroke="#c9c9c9" stroke-width="0.800"/><path d="M3.9 -3.9 Q15.7 -5.6 35.3 -4.2" stroke="#fff" stroke-opacity="0.35" stroke-width="2.1" fill="none" stroke-linecap="round"/><path d="M3.9 4.9 Q15.7 6.6 35.3 5.2" stroke="#bdbdbd" stroke-width="2.4" fill="none" stroke-linecap="round" opacity="0.7"/><path d="M41.7 -5.7V5.7" stroke="#8a8a8a" stroke-width="1.400"/><path d="M46.5 -5.2V5.2" stroke="#8a8a8a" stroke-width="1.400"/><path d="M51.3 -4.7V4.7" stroke="#8a8a8a" stroke-width="1.400"/><path d="M56.1 -4.2V4.2" stroke="#8a8a8a" stroke-width="1.400"/><path d="M60.9 -3.7V3.7" stroke="#8a8a8a" stroke-width="1.400"/></g>
<g transform="translate(558 568) rotate(-28.4)"><rect x="-7" y="-4.3" width="9" height="8.7" rx="2" fill="#c9c9c9" stroke="#8a8a8a" stroke-width="0.600"/><ellipse cx="-6.500" cy="0" rx="1.800" ry="3.1" fill="#6b4a3a"/><path d="M0 -5.6 Q8.8 -7.0 21.1 -7.0 L35.2 -6.0 L56.8 -3.5 L56.8 3.5 L35.2 6.0 L21.1 7.0 Q8.8 7.0 0 5.6 Z" fill="#e8452c" stroke="none" stroke-width="0.800"/><path d="M3.5 -3.9 Q14.1 -5.6 31.7 -4.2" stroke="#fff" stroke-opacity="0.35" stroke-width="2.1" fill="none" stroke-linecap="round"/><path d="M3.5 4.9 Q14.1 6.6 31.7 5.2" stroke="#9a2414" stroke-width="2.4" fill="none" stroke-linecap="round" opacity="0.7"/><path d="M37.4 -5.7V5.7" stroke="#9a2414" stroke-width="1.400"/><path d="M41.7 -5.2V5.2" stroke="#9a2414" stroke-width="1.400"/><path d="M46.0 -4.7V4.7" stroke="#9a2414" stroke-width="1.400"/><path d="M50.3 -4.2V4.2" stroke="#9a2414" stroke-width="1.400"/><path d="M54.7 -3.7V3.7" stroke="#9a2414" stroke-width="1.400"/></g>
<g transform="translate(571 585) rotate(-35.9)"><rect x="-7" y="-4.3" width="9" height="8.7" rx="2" fill="#c9c9c9" stroke="#8a8a8a" stroke-width="0.600"/><ellipse cx="-6.500" cy="0" rx="1.800" ry="3.1" fill="#6b4a3a"/><path d="M0 -5.6 Q9.0 -7.0 21.6 -7.0 L36.0 -6.0 L58.0 -3.5 L58.0 3.5 L36.0 6.0 L21.6 7.0 Q9.0 7.0 0 5.6 Z" fill="#f5f5f5" stroke="#c9c9c9" stroke-width="0.800"/><path d="M3.6 -3.9 Q14.4 -5.6 32.4 -4.2" stroke="#fff" stroke-opacity="0.35" stroke-width="2.1" fill="none" stroke-linecap="round"/><path d="M3.6 4.9 Q14.4 6.6 32.4 5.2" stroke="#c4c4c4" stroke-width="2.4" fill="none" stroke-linecap="round" opacity="0.7"/><path d="M38.2 -5.7V5.7" stroke="#8a8a8a" stroke-width="1.400"/><path d="M42.6 -5.2V5.2" stroke="#8a8a8a" stroke-width="1.400"/><path d="M47.0 -4.7V4.7" stroke="#8a8a8a" stroke-width="1.400"/><path d="M51.4 -4.2V4.2" stroke="#8a8a8a" stroke-width="1.400"/><path d="M55.8 -3.7V3.7" stroke="#8a8a8a" stroke-width="1.400"/></g>
</g>
<g filter="url(#b05)"><clipPath id="insc"><circle cx="809" cy="470.700" r="32.500"/></clipPath>
<circle cx="809" cy="470.700" r="33" fill="#fff" stroke="#4a4a4a" stroke-width="0.900"/>
<g clip-path="url(#insc)">
<path d="M790 452 C792 444 800 440 806 438 M800 452 C800 446 804 442 812 439" stroke="#111" stroke-width="4" fill="none"/>
<path d="M812 452 C812 446 814 442 820 439 M806 452C808 446 812 443 818 441" stroke="#1f2aa0" stroke-width="2.200" fill="none"/>
<rect x="781" y="452.500" width="56" height="12" fill="#ededed" stroke="#cfcfcf" stroke-width="0.600"/>
<rect x="779" y="464" width="60" height="22.500" rx="1.500" fill="#e2e2e2" stroke="#c4c4c4" stroke-width="0.700"/>
<rect x="783.5" y="473.600" width="1.800" height="2.200" fill="#3a3a3a"/><rect x="783.5" y="479" width="1.800" height="2.200" fill="#3a3a3a"/>
<rect x="789.2" y="473.600" width="1.800" height="2.200" fill="#3a3a3a"/><rect x="789.2" y="479" width="1.800" height="2.200" fill="#3a3a3a"/>
<rect x="794.9" y="473.600" width="1.800" height="2.200" fill="#3a3a3a"/><rect x="794.9" y="479" width="1.800" height="2.200" fill="#3a3a3a"/>
<rect x="800.6" y="473.600" width="1.800" height="2.200" fill="#3a3a3a"/><rect x="800.6" y="479" width="1.800" height="2.200" fill="#3a3a3a"/>
<rect x="806.3" y="473.600" width="1.800" height="2.200" fill="#3a3a3a"/><rect x="806.3" y="479" width="1.800" height="2.200" fill="#3a3a3a"/>
<rect x="812.0" y="473.600" width="1.800" height="2.200" fill="#3a3a3a"/><rect x="812.0" y="479" width="1.800" height="2.200" fill="#3a3a3a"/>
<rect x="817.7" y="473.600" width="1.800" height="2.200" fill="#3a3a3a"/><rect x="817.7" y="479" width="1.800" height="2.200" fill="#3a3a3a"/>
<rect x="823.4" y="473.600" width="1.800" height="2.200" fill="#3a3a3a"/><rect x="823.4" y="479" width="1.800" height="2.200" fill="#3a3a3a"/>
<rect x="829.1" y="473.600" width="1.800" height="2.200" fill="#3a3a3a"/><rect x="829.1" y="479" width="1.800" height="2.200" fill="#3a3a3a"/>
<rect x="834.8" y="473.600" width="1.800" height="2.200" fill="#3a3a3a"/><rect x="834.8" y="479" width="1.800" height="2.200" fill="#3a3a3a"/>
<path d="M795 452v11M809 452v11M823 452v11" stroke="#cfcfcf" stroke-width="1"/>
</g></g>
<circle cx="599" cy="392" r="7" fill="url(#bdg)"/><text x="599" y="395.4" font-size="9.5" font-weight="bold" fill="#fff" text-anchor="middle" letter-spacing="0">1</text>
<circle cx="586" cy="411" r="7" fill="url(#bdg)"/><text x="586" y="414.4" font-size="9.5" font-weight="bold" fill="#fff" text-anchor="middle" letter-spacing="0">2</text>
<circle cx="567.5" cy="431" r="7" fill="url(#bdg)"/><text x="567.5" y="434.4" font-size="9.5" font-weight="bold" fill="#fff" text-anchor="middle" letter-spacing="0">3</text>
<circle cx="541" cy="449" r="7" fill="url(#bdg)"/><text x="541" y="452.4" font-size="9.5" font-weight="bold" fill="#fff" text-anchor="middle" letter-spacing="0">4</text>
<circle cx="527.5" cy="470" r="7" fill="url(#bdg)"/><text x="527.5" y="473.4" font-size="9.5" font-weight="bold" fill="#fff" text-anchor="middle" letter-spacing="0">5</text>
<circle cx="524" cy="509" r="7" fill="url(#bdg)"/><text x="524" y="512.4" font-size="9.5" font-weight="bold" fill="#fff" text-anchor="middle" letter-spacing="0">6</text>
<circle cx="536" cy="539" r="7" fill="url(#bdg)"/><text x="536" y="542.4" font-size="9.5" font-weight="bold" fill="#fff" text-anchor="middle" letter-spacing="0">7</text>
<circle cx="561" cy="559.5" r="7" fill="url(#bdg)"/><text x="561" y="562.9" font-size="9.5" font-weight="bold" fill="#fff" text-anchor="middle" letter-spacing="0">8</text>
<circle cx="583" cy="586" r="7" fill="url(#bdg)"/><text x="583" y="589.4" font-size="9.5" font-weight="bold" fill="#fff" text-anchor="middle" letter-spacing="0">9</text>
<circle cx="612.5" cy="599.5" r="7" fill="url(#bdg)"/><text x="612.5" y="602.4" font-size="8" font-weight="bold" fill="#fff" text-anchor="middle" letter-spacing="-0.8">10</text>
<circle cx="701.9" cy="602.5" r="10.5" fill="url(#bdg)"/><text x="701.9" y="608.3" font-size="16" font-weight="bold" fill="#fff" text-anchor="middle" letter-spacing="0">1</text>
<text x="718" y="607.8" font-size="12" fill="#333">MIC</text>
<circle cx="701.9" cy="630.6" r="10.5" fill="url(#bdg)"/><text x="701.9" y="636.4" font-size="16" font-weight="bold" fill="#fff" text-anchor="middle" letter-spacing="0">2</text>
<text x="718.5" y="635" font-size="12" fill="#333">CVBS IN 1</text>
<circle cx="701.9" cy="663.8" r="10.5" fill="url(#bdg)"/><text x="701.9" y="669.6" font-size="16" font-weight="bold" fill="#fff" text-anchor="middle" letter-spacing="0">3</text>
<text x="719.5" y="668.6" font-size="12" fill="#333">VIDEO OUT</text>
<circle cx="701.9" cy="697.3" r="10.5" fill="url(#bdg)"/><text x="701.9" y="703.1" font-size="16" font-weight="bold" fill="#fff" text-anchor="middle" letter-spacing="0">4</text>
<text x="721.3" y="702.3" font-size="12" fill="#333">SUB WOOFER</text>
<circle cx="701.9" cy="728.2" r="10.5" fill="url(#bdg)"/><text x="701.9" y="734.0" font-size="16" font-weight="bold" fill="#fff" text-anchor="middle" letter-spacing="0">5</text>
<text x="719.5" y="734" font-size="12" fill="#333">VIDEO IN</text>
<circle cx="834.7" cy="602.5" r="10.5" fill="url(#bdg)"/><text x="834.7" y="608.3" font-size="16" font-weight="bold" fill="#fff" text-anchor="middle" letter-spacing="0">6</text>
<text x="851" y="608" font-size="12" fill="#333">AUX R IN</text>
<circle cx="834.7" cy="630.6" r="10.5" fill="url(#bdg)"/><text x="834.7" y="636.4" font-size="16" font-weight="bold" fill="#fff" text-anchor="middle" letter-spacing="0">7</text>
<text x="851" y="635" font-size="12" fill="#333">AUX L IN</text>
<circle cx="834.7" cy="663.8" r="10.5" fill="url(#bdg)"/><text x="834.7" y="669.6" font-size="16" font-weight="bold" fill="#fff" text-anchor="middle" letter-spacing="0">8</text>
<text x="851" y="666.8" font-size="12" fill="#333">AUDIO OUT R</text>
<circle cx="834.7" cy="697.3" r="10.5" fill="url(#bdg)"/><text x="834.7" y="703.1" font-size="16" font-weight="bold" fill="#fff" text-anchor="middle" letter-spacing="0">9</text>
<text x="851" y="702.3" font-size="12" fill="#333">AUDIO OUT L</text>
<circle cx="834.7" cy="728.2" r="10.5" fill="url(#bdg)"/><text x="834.7" y="733.4" font-size="14.5" font-weight="bold" fill="#fff" text-anchor="middle" letter-spacing="-0.8">10</text>
<text x="851" y="732" font-size="12" fill="#333">AMP CONT</text>
</svg>
<svg class="layer" viewBox="0 0 960 1500" width="960" height="1500">
<g fill="none" stroke="#0a0a0a" stroke-width="2.500" stroke-linejoin="miter">
<path d="M616 816.300H414.700V1012.200H468"/>
<path d="M650 864L624.400 879.700L650 896.900M624.400 879.700H436.900V970.600H463"/>
<path d="M586 970.600H612Q628 970.600 628 986V997Q628 1012.200 612 1012.200H586"/>
<path d="M628 990.300H692M724 990.300H806.500"/>
<path d="M732 815.800H803"/>
</g>
<path d="M614.5 814.3L634.0 811.3V821.3L614.5 818.3Z" fill="#f2e21a" stroke="#222" stroke-width="0.700"/><path d="M617.5 814.0V818.6" stroke="#222" stroke-width="0.900"/><path d="M621.1 813.5V819.1" stroke="#222" stroke-width="0.900"/><path d="M624.7 812.9V819.7" stroke="#222" stroke-width="0.900"/><path d="M628.3 812.4V820.2" stroke="#222" stroke-width="0.900"/><path d="M631.9 811.8V820.8" stroke="#222" stroke-width="0.900"/><rect x="634.0" y="808.5" width="25.500" height="15.600" fill="#f6e61c" stroke="#222" stroke-width="0.700"/><rect x="638.0" y="808.5" width="8.200" height="15.600" fill="#5a1c10"/><rect x="659.5" y="813.6999999999999" width="12.500" height="5.200" rx="1.500" fill="#f4f4f4" stroke="#555" stroke-width="0.700"/>
<rect x="680.5" y="811.4" width="8.500" height="9.200" rx="1" fill="#f7f7f7" stroke="#555" stroke-width="0.700"/><rect x="688.5" y="808.2" width="27" height="15.600" fill="#f6e61c" stroke="#222" stroke-width="0.700"/><rect x="703.0" y="808.2" width="8" height="15.600" fill="#5a1c10"/><path d="M715.5 811L733.5 814V818L715.5 821Z" fill="#f2e21a" stroke="#222" stroke-width="0.700"/><path d="M718.0 811.4V820.6" stroke="#222" stroke-width="0.900"/><path d="M721.3 811.9V820.1" stroke="#222" stroke-width="0.900"/><path d="M724.6 812.5V819.5" stroke="#222" stroke-width="0.900"/><path d="M727.9 813.0V819.0" stroke="#222" stroke-width="0.900"/><path d="M731.2 813.6V818.4" stroke="#222" stroke-width="0.900"/>
<path d="M466.5 1010.2L486.0 1007.2V1017.2L466.5 1014.2Z" fill="#f2e21a" stroke="#222" stroke-width="0.700"/><path d="M469.5 1009.9V1014.5" stroke="#222" stroke-width="0.900"/><path d="M473.1 1009.4V1015.0" stroke="#222" stroke-width="0.900"/><path d="M476.7 1008.8V1015.6" stroke="#222" stroke-width="0.900"/><path d="M480.3 1008.3V1016.1" stroke="#222" stroke-width="0.900"/><path d="M483.9 1007.7V1016.7" stroke="#222" stroke-width="0.900"/><rect x="486.0" y="1004.4000000000001" width="25.500" height="15.600" fill="#f6e61c" stroke="#222" stroke-width="0.700"/><rect x="490.0" y="1004.4000000000001" width="8.200" height="15.600" fill="#5a1c10"/><rect x="511.5" y="1009.6" width="12.500" height="5.200" rx="1.500" fill="#f4f4f4" stroke="#555" stroke-width="0.700"/>
<rect x="534" y="1007.6" width="8.500" height="9.200" rx="1" fill="#f7f7f7" stroke="#555" stroke-width="0.700"/><rect x="542" y="1004.4000000000001" width="27" height="15.600" fill="#f6e61c" stroke="#222" stroke-width="0.700"/><rect x="556.5" y="1004.4000000000001" width="8" height="15.600" fill="#5a1c10"/><path d="M569 1007.2L587 1010.2V1014.2L569 1017.2Z" fill="#f2e21a" stroke="#222" stroke-width="0.700"/><path d="M571.5 1007.6V1016.8" stroke="#222" stroke-width="0.900"/><path d="M574.8 1008.1V1016.3" stroke="#222" stroke-width="0.900"/><path d="M578.1 1008.7V1015.7" stroke="#222" stroke-width="0.900"/><path d="M581.4 1009.2V1015.2" stroke="#222" stroke-width="0.900"/><path d="M584.7 1009.8V1014.6" stroke="#222" stroke-width="0.900"/>
<path d="M462.500 966 L476 964 H510 V978.300 H476 L462.500 975.500Z" fill="#c4161c"/><path d="M466 968.500H508" stroke="#e8777a" stroke-width="1.500"/>
<rect x="510" y="966.800" width="16" height="8.200" fill="#d9d9d9" stroke="#999" stroke-width="0.600"/>
<rect x="533.700" y="963" width="35" height="15.400" fill="#c4161c"/><rect x="557.800" y="963" width="11" height="15.400" fill="#6e0f12"/><path d="M536 966H556" stroke="#e8777a" stroke-width="1.500"/>
<path d="M568.700 965.500L588 969V972.200L568.700 976Z" fill="#a01216"/><path d="M572 966.500V975M575.500 967V974.500M579 967.700V973.700M582.500 968.300V973" stroke="#5a0a0c" stroke-width="0.900"/>
<rect x="690.200" y="982.800" width="34.300" height="15" rx="5.500" fill="#0c0c0c"/>
<rect x="803" y="766.800" width="106.800" height="106.200" fill="none" stroke="#111" stroke-width="1" stroke-dasharray="1.200 1.600"/>
<g fill="none" stroke="#111" stroke-width="1.500"><rect x="818" y="782.600" width="75.500" height="63.800"/><rect x="825.300" y="788.400" width="62" height="52.600" stroke-width="1.300"/><path d="M813.300 807.400V851H899.700V807.400M849.700 851V863.500M861.400 851V863.500"/><path d="M846 864.600H865.400" stroke-width="2.800"/></g>
<rect x="825.300" y="884" width="61" height="14" rx="7" fill="#0a0a0a"/><text x="855.800" y="895.300" font-size="12.800" font-weight="bold" fill="#fff" text-anchor="middle" letter-spacing="0.3">Monitor</text>
<rect x="829.800" y="1046.300" width="61.200" height="13.500" rx="6.750" fill="#0a0a0a"/><text x="860.800" y="1057.800" font-size="12.800" font-weight="bold" fill="#fff" text-anchor="middle" letter-spacing="0.3">Camera</text>
<g fill="#151515" stroke="#151515" stroke-width="0.25">
<text x="450.500" y="807.500" font-size="12.700" letter-spacing="0.660">Link to Camera and Monitor</text>
<text x="659.500" y="792.300" font-size="12.700" letter-spacing="0.650">Video(out)</text>
<text x="461" y="958" font-size="12.700" letter-spacing="0.500">Camera Power Cable</text>
<text x="651.500" y="867.500" font-size="10" font-weight="bold">+</text><text x="662.600" y="866.800" font-size="7.900" letter-spacing="0.120">Red wire to Power+:Reversing lamp</text>
<text x="654.300" y="901" font-size="10" font-weight="bold">-</text><text x="660.800" y="900.700" font-size="7.900" letter-spacing="0.050">Black to GND</text>
</g>
<defs><linearGradient id="brk" x1="0" y1="0" x2="0" y2="1"><stop offset="0" stop-color="#eee"/><stop offset="0.5" stop-color="#c9c9c9"/><stop offset="1" stop-color="#a9a9a9"/></linearGradient>
<radialGradient id="lens" cx="0.45" cy="0.45" r="0.55"><stop offset="0" stop-color="#244a8a"/><stop offset="0.35" stop-color="#0c1a33"/><stop offset="0.7" stop-color="#1c3a2a"/><stop offset="1" stop-color="#0a0a0a"/></radialGradient></defs>
<g filter="url(#b05)">
<path d="M815 941 H832 Q836 941 840 944 Q850 950.500 859.600 950.500 Q869 950.500 879 944 Q883 941 887 941 H908 Q912.500 941 912.500 945.500 V959 Q912.500 964 907.500 964 H889 Q874 962.600 859.600 962.600 Q845 962.600 830 964 H816.500 Q811.500 964 811.500 959 V945.500 Q811.500 941 815 941Z" fill="url(#brk)" stroke="#9a9a9a" stroke-width="0.700"/>
<ellipse cx="821" cy="952.300" rx="5" ry="3.500" fill="#fff" stroke="#777" stroke-width="0.800"/><ellipse cx="903" cy="952.300" rx="5" ry="3.500" fill="#fff" stroke="#777" stroke-width="0.800"/>
<path d="M836 950.500 L840.500 945.500 L857 954.800 L853 957 Z" fill="#fff" stroke="#222" stroke-width="1" stroke-linejoin="round"/><path d="M883.500 950.500 L879 945.500 L862.500 954.800 L866.500 957 Z" fill="#fff" stroke="#222" stroke-width="1" stroke-linejoin="round"/>
<path d="M836 964l1.500 12M841.500 964l-1 12M884 964l-1.500 12M879 964l1 12" stroke="#1a1a1a" stroke-width="2"/>
<path d="M831 969h15M874 969h15" stroke="#1a1a1a" stroke-width="2.400"/>
<rect x="830.900" y="977.400" width="57.800" height="57.600" rx="5" fill="#2e2e2e"/>
<rect x="834.800" y="981.300" width="50" height="50" rx="5" fill="#8f8f8f"/>
<rect x="848.2" y="982.5" width="8.400" height="4.800" rx="1.600" fill="#fff" transform="rotate(0 852.4 984.9)"/>
<rect x="863.0" y="982.5" width="8.400" height="4.800" rx="1.600" fill="#fff" transform="rotate(0 867.2 984.9)"/>
<rect x="848.2" y="1025.3" width="8.400" height="4.800" rx="1.600" fill="#fff" transform="rotate(0 852.4 1027.7)"/>
<rect x="863.0" y="1025.3" width="8.400" height="4.800" rx="1.600" fill="#fff" transform="rotate(0 867.2 1027.7)"/>
<rect x="834.2" y="996.5" width="8.400" height="4.800" rx="1.600" fill="#fff" transform="rotate(90 838.4 998.9)"/>
<rect x="834.2" y="1011.3" width="8.400" height="4.800" rx="1.600" fill="#fff" transform="rotate(90 838.4 1013.7)"/>
<rect x="877.0" y="996.5" width="8.400" height="4.800" rx="1.600" fill="#fff" transform="rotate(90 881.2 998.9)"/>
<rect x="877.0" y="1011.3" width="8.400" height="4.800" rx="1.600" fill="#fff" transform="rotate(90 881.2 1013.7)"/>
<rect x="838.0" y="986.3" width="8.400" height="4.800" rx="1.600" fill="#fff" transform="rotate(-45 842.2 988.7)"/>
<rect x="873.2" y="986.3" width="8.400" height="4.800" rx="1.600" fill="#fff" transform="rotate(45 877.4 988.7)"/>
<rect x="838.0" y="1021.5" width="8.400" height="4.800" rx="1.600" fill="#fff" transform="rotate(45 842.2 1023.9)"/>
<rect x="873.2" y="1021.5" width="8.400" height="4.800" rx="1.600" fill="#fff" transform="rotate(-45 877.4 1023.9)"/>
<circle cx="859.700" cy="1008.300" r="17.600" fill="#7a7a7a"/><circle cx="859.700" cy="1008.300" r="15" fill="#151515"/><circle cx="859.700" cy="1008.300" r="12.500" fill="url(#lens)"/>
<path d="M850 1004a10.500 10.500 0 0 1 14 -6.500" stroke="#3fbf6a" stroke-width="2.600" fill="none" opacity="0.900"/><path d="M853 1015a9 9 0 0 0 13 0" stroke="#4aa0d8" stroke-width="2.400" fill="none" opacity="0.800"/><circle cx="859.700" cy="1008.300" r="4" fill="#0b1a55"/><circle cx="858.500" cy="1008" r="1.200" fill="#e8f4ff"/>
</g>
</svg>
<div class="card" style="left:421.10px;top:1087.25px;width:123.4px;height:124.25px;"></div>
<div class="card" style="left:550.40px;top:1087.25px;width:123.4px;height:124.25px;"></div>
<div class="card" style="left:679.70px;top:1087.25px;width:123.4px;height:124.25px;"></div>
<div class="card" style="left:809.00px;top:1087.25px;width:123.4px;height:124.25px;"></div>
<div class="card" style="left:421.10px;top:1218.00px;width:123.4px;height:124.25px;"></div>
<div class="card" style="left:550.40px;top:1218.00px;width:123.4px;height:124.25px;"></div>
<div class="card" style="left:679.70px;top:1218.00px;width:123.4px;height:124.25px;"></div>
<div class="card" style="left:809.00px;top:1218.00px;width:123.4px;height:124.25px;"></div>
<div class="card" style="left:421.10px;top:1348.75px;width:123.4px;height:124.25px;"></div>
<div class="card" style="left:550.40px;top:1348.75px;width:123.4px;height:124.25px;"></div>
<div class="card" style="left:679.70px;top:1348.75px;width:123.4px;height:124.25px;"></div>
<div class="card" style="left:809.00px;top:1348.75px;width:123.4px;height:124.25px;"></div>
<svg class="layer" viewBox="0 0 960 1500" width="960" height="1500">
<defs>
<linearGradient id="spd" x1="0" y1="0" x2="0" y2="1"><stop offset="0" stop-color="#0b3a66" stop-opacity="0"/><stop offset="0.8" stop-color="#1c6fa8" stop-opacity="0.8"/><stop offset="1" stop-color="#0b3a66" stop-opacity="0"/></linearGradient>
<radialGradient id="mus" cx="0.5" cy="0.5" r="0.5"><stop offset="0" stop-color="#2a1c5a"/><stop offset="0.7" stop-color="#1e1038"/><stop offset="0.92" stop-color="#5a2a88"/><stop offset="1" stop-color="#7a4ab8"/></radialGradient>
<linearGradient id="btg" x1="0" y1="0" x2="0" y2="1"><stop offset="0" stop-color="#2a7fd2"/><stop offset="1" stop-color="#3590de"/></linearGradient>
<clipPath id="scrclip"><rect x="70" y="1189.500" width="287" height="163"/></clipPath>
<clipPath id="c34"><rect x="809" y="1349" width="112.800" height="125"/></clipPath>
</defs>
<g filter="url(#b05)">
<path d="M22.500 1172.500 Q214 1186 406 1172 L368 1439 Q214 1456 60.400 1439 Z M76.200 1378.300 Q76 1392 86 1410 Q93 1426 104 1428 Q214 1440 326 1428 Q337 1426 344 1410 Q353.500 1392 353 1378.300Z" fill="#404040" fill-rule="evenodd"/>
<path d="M22.500 1172.500 L35 1181 Q40 1250 70 1437 L60.400 1439Z" fill="#525252"/>
<path d="M406 1172 L394 1181 Q390 1250 360 1437 L368 1439Z" fill="#323232"/>
<path d="M22.500 1172.500 Q214 1186 406 1172 L394 1181 Q214 1192 35 1181Z" fill="#333"/>
<path d="M35 1181 Q214 1192 394 1181 L386 1300 L381 1372 L48 1372 L42 1300Z" fill="#272727"/>
<path d="M379 1183 L394 1181 L388.500 1290 L381 1372 L379 1372Z" fill="#4d4d4d"/>
<path d="M60.400 1439 Q214 1456 368 1439 L368.700 1434 Q214 1451 59.600 1434Z" fill="#2c2c2c"/>
<rect x="50" y="1183.500" width="328.500" height="182.500" rx="4" fill="#0b0b0b"/>
<path d="M51 1187 Q51 1184.500 54 1184.300 L56 1184.300 Q52.500 1185 52.500 1188 V1362 L51 1362Z" fill="#cfcfcf"/>
<path d="M377.300 1187V1362" stroke="#8a8a8a" stroke-width="0.900"/>
<rect x="70" y="1189.500" width="287" height="163" fill="#070b12"/>
</g>
<g clip-path="url(#scrclip)" filter="url(#b05)">
<rect x="71" y="1208.800" width="27.800" height="144" fill="#0b1626"/>
<circle cx="160.7" cy="1278.0" r="0.450" fill="#7f9fd0" opacity="0.48"/>
<circle cx="254.0" cy="1290.9" r="0.450" fill="#7f9fd0" opacity="0.33"/>
<circle cx="103.4" cy="1324.3" r="0.450" fill="#7f9fd0" opacity="0.43"/>
<circle cx="159.8" cy="1349.3" r="0.450" fill="#7f9fd0" opacity="0.54"/>
<circle cx="313.3" cy="1267.3" r="0.450" fill="#7f9fd0" opacity="0.62"/>
<circle cx="138.4" cy="1292.3" r="0.450" fill="#7f9fd0" opacity="0.73"/>
<circle cx="233.4" cy="1309.1" r="0.450" fill="#7f9fd0" opacity="0.64"/>
<circle cx="116.3" cy="1311.8" r="0.450" fill="#7f9fd0" opacity="0.60"/>
<circle cx="176.8" cy="1196.9" r="0.450" fill="#7f9fd0" opacity="0.73"/>
<circle cx="220.6" cy="1305.6" r="0.450" fill="#7f9fd0" opacity="0.74"/>
<circle cx="282.1" cy="1337.5" r="0.450" fill="#7f9fd0" opacity="0.50"/>
<circle cx="304.2" cy="1262.3" r="0.450" fill="#7f9fd0" opacity="0.77"/>
<circle cx="324.1" cy="1207.4" r="0.450" fill="#7f9fd0" opacity="0.37"/>
<circle cx="155.3" cy="1344.5" r="0.450" fill="#7f9fd0" opacity="0.52"/>
<circle cx="259.8" cy="1239.6" r="0.450" fill="#7f9fd0" opacity="0.55"/>
<circle cx="198.4" cy="1247.4" r="0.450" fill="#7f9fd0" opacity="0.59"/>
<circle cx="249.0" cy="1334.9" r="0.450" fill="#7f9fd0" opacity="0.64"/>
<circle cx="336.9" cy="1327.3" r="0.450" fill="#7f9fd0" opacity="0.80"/>
<circle cx="271.2" cy="1217.8" r="0.450" fill="#7f9fd0" opacity="0.73"/>
<circle cx="346.0" cy="1334.9" r="0.450" fill="#7f9fd0" opacity="0.58"/>
<circle cx="282.0" cy="1225.4" r="0.450" fill="#7f9fd0" opacity="0.72"/>
<circle cx="246.3" cy="1237.0" r="0.450" fill="#7f9fd0" opacity="0.33"/>
<circle cx="317.8" cy="1348.4" r="0.450" fill="#7f9fd0" opacity="0.34"/>
<circle cx="304.2" cy="1256.9" r="0.450" fill="#7f9fd0" opacity="0.38"/>
<circle cx="174.9" cy="1313.5" r="0.450" fill="#7f9fd0" opacity="0.74"/>
<circle cx="111.3" cy="1289.1" r="0.450" fill="#7f9fd0" opacity="0.32"/>
<circle cx="283.2" cy="1244.3" r="0.450" fill="#7f9fd0" opacity="0.74"/>
<circle cx="350.1" cy="1271.9" r="0.450" fill="#7f9fd0" opacity="0.80"/>
<circle cx="179.0" cy="1204.2" r="0.450" fill="#7f9fd0" opacity="0.60"/>
<circle cx="108.0" cy="1223.2" r="0.450" fill="#7f9fd0" opacity="0.50"/>
<circle cx="255.7" cy="1216.7" r="0.450" fill="#7f9fd0" opacity="0.32"/>
<circle cx="321.3" cy="1241.6" r="0.450" fill="#7f9fd0" opacity="0.78"/>
<circle cx="328.6" cy="1251.7" r="0.450" fill="#7f9fd0" opacity="0.53"/>
<circle cx="232.6" cy="1293.7" r="0.450" fill="#7f9fd0" opacity="0.60"/>
<circle cx="242.6" cy="1290.0" r="0.450" fill="#7f9fd0" opacity="0.77"/>
<circle cx="229.3" cy="1260.1" r="0.450" fill="#7f9fd0" opacity="0.66"/>
<circle cx="160.6" cy="1239.6" r="0.450" fill="#7f9fd0" opacity="0.79"/>
<circle cx="232.9" cy="1278.7" r="0.450" fill="#7f9fd0" opacity="0.31"/>
<circle cx="205.9" cy="1283.6" r="0.450" fill="#7f9fd0" opacity="0.31"/>
<circle cx="257.0" cy="1291.9" r="0.450" fill="#7f9fd0" opacity="0.33"/>
<path d="M110 1226 H188 L184 1248.500 H114Z" fill="url(#spd)" opacity="0.950"/>
<ellipse cx="148.500" cy="1248.300" rx="36" ry="1.600" fill="#2a8fd0" opacity="0.550"/>
<path d="M136 1266 H164 L196 1336 H104Z" fill="#161b22" opacity="0.900"/>
<path d="M134.400 1270 L107.300 1327 M166.700 1270 L193.750 1327" stroke="#4a7a80" stroke-width="1.100" fill="none" opacity="0.900"/>
<path d="M137 1270 L112 1327 M164 1270 L189 1327" stroke="#2f4f55" stroke-width="0.900" fill="none"/>
<path d="M142 1273 q0 -4 3 -5 h6 q3 1 3 5 v2 h-12z" fill="#8a949a"/><rect x="144" y="1270.500" width="8" height="2.300" fill="#333"/>
<path d="M131 1322 q-1 -10 5 -14 l4 -5 h20 l4 5 q6 4 5 14 q0 3 -3 3 h-32 q-3 0 -3 -3z" fill="#8cc6cc"/><path d="M139 1309 l3 -5 h16 l3 5z" fill="#1a3a4a"/><path d="M133 1316 h34 v4 h-34z" fill="#b9e2e6"/><rect x="141" y="1320.500" width="18" height="3" fill="#2a4a5a"/><path d="M133 1314h6M161 1314h6" stroke="#fff" stroke-width="1.600"/>
<rect x="196" y="1227" width="75" height="108" rx="2.500" fill="#fff"/><path d="M196 1229.500 q0 -2.500 2.500 -2.500 h70 q2.500 0 2.500 2.500 V1307.500 H196Z" fill="#8b6ddd"/>
<circle cx="233" cy="1267.500" r="30" fill="url(#mus)"/><path d="M210 1280 q10 -34 16 -8 q4 16 10 -2 q6 -22 18 8" fill="none" stroke="#4a6ae0" stroke-width="3" opacity="0.700"/><path d="M206 1270 q2 -22 20 -28 q-8 14 -6 30 q2 10 -2 16 q-10 -6 -12 -18z" fill="#d83ab0" opacity="0.800"/><path d="M262 1262 q-2 14 -12 22" fill="none" stroke="#c040b0" stroke-width="3" opacity="0.600"/>
<g fill="#fff"><ellipse cx="223" cy="1279.500" rx="5" ry="4"/><ellipse cx="241" cy="1276" rx="5" ry="4"/><path d="M226 1258.500 L246 1254.500 V1276 H243.600 V1261 L228.400 1264 V1279.500 H226Z"/></g>
<rect x="278.700" y="1227" width="68.500" height="108" rx="2.500" fill="#fff"/><path d="M278.700 1229.500 q0 -2.500 2.500 -2.500 h63.500 q2.500 0 2.500 2.500 V1306.800 H278.700Z" fill="url(#btg)"/>
<circle cx="312.500" cy="1268.700" r="26" fill="#3a8cda" opacity="0.700"/><circle cx="312.500" cy="1268.700" r="21.500" fill="#4596e0"/><circle cx="312.500" cy="1268.700" r="15.500" fill="#5aa6e8"/>
<path d="M304.500 1259 q-2 6 3 13 q5 7 11 8 l2.500 -3.500 l-4.500 -3 l-2 1.500 q-3 -2 -5 -6 l2 -1.500 l-2.500 -5z" fill="#e8f5ff"/><path d="M315.500 1261 l4.500 4 l-2.300 -4.500 v9 l2.300 -4.500 l-4.500 4" stroke="#cfeaff" stroke-width="1" fill="none"/>
<g fill="none" stroke="#a9bcd6" stroke-width="1.100"><circle cx="84.200" cy="1240" r="3"/><path d="M84.200 1232.200l2 .4l.8 2l2-.6l1.500 1.500l-.7 2l1.900 .9v2.200l-1.900 .9l.7 2l-1.500 1.500l-2 -.6l-.8 2h-4l-.8 -2l-2 .6l-1.500 -1.500l.7 -2l-1.900 -.9v-2.200l1.900 -.9l-.7 -2l1.500 -1.500l2 .6l.8 -2z"/>
<rect x="77" y="1279.500" width="6" height="6" rx="1.500"/><rect x="85.500" y="1279.500" width="6" height="6" rx="1.500"/><rect x="77" y="1288" width="6" height="6" rx="1.500"/><rect x="85.500" y="1288" width="6" height="6" rx="1.500"/>
<circle cx="84.200" cy="1332.500" r="7.300"/><path d="M84.200 1328l3.500 7.500l-3.500 -1.800l-3.500 1.800z" /></g>
<g fill="none" stroke="#fff" stroke-width="1.200"><path d="M78 1202.500v-2.800q0 -2.200 2.200 -2.200h7q2.200 0 2.200 2.200v2.800z"/><path d="M293 1199.800l3.200 -2.800l3.200 2.800M293 1203l3.200 -2.800l3.200 2.800"/><path d="M315.500 1198.500h7.500v4h-9v-2.500M317 1197h8v4.500"/><path d="M339 1199h7q2.500 0 2.500 2.200t-2.500 2.200h-4M341.200 1197l-2.200 2l2.200 2"/></g>
<path d="M256 1197.300l2.600 2.400l-2.600 2.400v-4.800l2.600 2.400M253.500 1198.500l2.500 2.500" stroke="#e8e8e8" stroke-width="0.700" fill="none"/><rect x="250" y="1198" width="2.500" height="3.500" fill="#bbb"/>
<circle cx="228.700" cy="1343" r="1.300" fill="#fff"/><circle cx="238" cy="1343" r="1.100" fill="#4a5568"/>
</g>
<text x="148.700" y="1248.600" font-size="21.700" fill="#f2fbff" stroke="#f2fbff" stroke-width="0.450" text-anchor="middle">0</text>
<text x="148" y="1262" font-size="7.300" font-weight="bold" fill="#e8e8e8" text-anchor="middle">km/h</text>
<text x="266.700" y="1202.300" font-size="6.800" font-weight="bold" fill="#fff">08:02</text>
<text x="197.300" y="1313.700" font-size="5.950" fill="#222" letter-spacing="-0.100">Star_Sky_-_Instrumental-T...</text>
<text x="313" y="1323.800" font-size="9" fill="#333" text-anchor="middle">Bluetooth</text>
<text x="60.500" y="1194" font-size="3.500" font-weight="bold" fill="#eee">MIC</text><text x="60.500" y="1207.200" font-size="3.500" font-weight="bold" fill="#eee">RST</text>
<g fill="none" stroke="#333" stroke-width="1.100"><path d="M202.300 1320v8M202.800 1324l5 -4v8zM207.800 1324l5 -4v8z"/><path d="M229.600 1319v10M233.600 1319v10" stroke-width="1.500"/><path d="M261.200 1320v8M260.700 1324l-5 -4v8zM255.700 1324l-5 -4v8z"/></g>
<g fill="none" stroke="#fff" stroke-width="0.900"><circle cx="62" cy="1217.300" r="1.900"/><path d="M62 1214.500v2.500"/><path d="M60 1241.300v-2.400l2 -1.700l2 1.700v2.400z" stroke-width="1.100"/><path d="M60 1259.800h3.200a1.700 1.700 0 0 1 0 3.400H60.500M61.200 1258.500l-1.400 1.300l1.400 1.300"/><path d="M59.500 1281h1.200l1.600 -1.400v4.600l-1.600 -1.400h-1.200zM63.700 1281.800h2M64.700 1280.800v2"/><path d="M59.500 1302.300h1.200l1.600 -1.400v4.600l-1.600 -1.400h-1.200zM63.700 1303.200h2"/><path d="M57 1193.500l1.500 -1.500M57 1206.700l1.500 -1.500"/></g>
<g filter="url(#b05)">
<path d="M446.500 1112.300 H514.400 L513.500 1170.700 H447.500Z" fill="#111"/><path d="M447.500 1166H513.600V1170.700H447.500Z" fill="#222"/>
<rect x="455.200" y="1117.300" width="48" height="28.300" fill="#cfcfcf"/>
<path d="M458 1121H500" stroke="#555" stroke-width="1.500" stroke-dasharray="3 1.200"/>
<path d="M458 1126H496" stroke="#555" stroke-width="1.500" stroke-dasharray="4 1.200"/>
<path d="M458 1131.5H500" stroke="#555" stroke-width="1.500" stroke-dasharray="5 1.200"/>
<path d="M458 1136.5H496" stroke="#555" stroke-width="1.500" stroke-dasharray="6 1.200"/>
<path d="M458 1141.5H500" stroke="#555" stroke-width="1.500" stroke-dasharray="7 1.200"/>
<circle cx="612" cy="1157.500" r="15.500" fill="none" stroke="#111" stroke-width="3.600"/><circle cx="612" cy="1157.500" r="13" fill="none" stroke="#333" stroke-width="0.800"/>
<path d="M595.300 1125v19" stroke="#222" stroke-width="1.200"/><path d="M595.300 1140 q0 12 3 16" stroke="#111" stroke-width="1.400" fill="none"/>
<path d="M627.500 1130 v20" stroke="#111" stroke-width="1.600"/><rect x="622" y="1114.500" width="12.500" height="15.500" rx="5" fill="#111"/><path d="M628 1131h15v3h-15z" fill="#222"/>
<path d="M703.500 1127.500 H782.300 L794.800 1151.400 L789.600 1172.700 H696.300 L691 1152.300Z" fill="#dba77c"/><path d="M703.500 1127.500 H782.300 L794.800 1151.400 H691Z" fill="#e2b48d"/><path d="M691 1152.300 L696.300 1172.700 H789.600 L794.800 1151.400Z" fill="#d39c70"/><path d="M691 1152H794.800" stroke="#c58f62" stroke-width="0.800"/>
<path d="M885.700 1116.600 L896 1125.800 L894.900 1150.400 L884.600 1156Z" fill="#2a2a2a"/>
<path d="M851.900 1113.200 L885.700 1116.600 L884.600 1156 L846.800 1147.600Z" fill="#171717" stroke="#171717" stroke-width="1.500" stroke-linejoin="round"/>
<ellipse cx="880.4" cy="1136.6" rx="2.300" ry="1.700" fill="#fff" transform="rotate(105 880.4 1136.6)"/><ellipse cx="876.6" cy="1143.4" rx="2.300" ry="1.700" fill="#fff" transform="rotate(135 876.6 1143.4)"/><ellipse cx="870.1" cy="1147.4" rx="2.300" ry="1.700" fill="#fff" transform="rotate(165 870.1 1147.4)"/><ellipse cx="862.5" cy="1147.4" rx="2.300" ry="1.700" fill="#fff" transform="rotate(195 862.5 1147.4)"/><ellipse cx="856.0" cy="1143.4" rx="2.300" ry="1.700" fill="#fff" transform="rotate(225 856.0 1143.4)"/><ellipse cx="852.2" cy="1136.6" rx="2.300" ry="1.700" fill="#fff" transform="rotate(255 852.2 1136.6)"/><ellipse cx="852.2" cy="1128.8" rx="2.300" ry="1.700" fill="#fff" transform="rotate(285 852.2 1128.8)"/><ellipse cx="856.0" cy="1122.0" rx="2.300" ry="1.700" fill="#fff" transform="rotate(315 856.0 1122.0)"/><ellipse cx="862.5" cy="1118.0" rx="2.300" ry="1.700" fill="#fff" transform="rotate(345 862.5 1118.0)"/><ellipse cx="870.1" cy="1118.0" rx="2.300" ry="1.700" fill="#fff" transform="rotate(375 870.1 1118.0)"/><ellipse cx="876.6" cy="1122.0" rx="2.300" ry="1.700" fill="#fff" transform="rotate(405 876.6 1122.0)"/><ellipse cx="880.4" cy="1128.8" rx="2.300" ry="1.700" fill="#fff" transform="rotate(435 880.4 1128.8)"/>
<circle cx="866.300" cy="1132.700" r="10.500" fill="#3a3a3a"/><circle cx="866.300" cy="1132.700" r="8.300" fill="#0e0e0e"/><circle cx="865" cy="1131.500" r="1.300" fill="#777"/>
<path d="M860 1149l-2.500 18M892.500 1150l-1.500 19" stroke="#1c1c1c" stroke-width="3"/><path d="M855 1162.500h8M887.500 1164h8" stroke="#333" stroke-width="2"/>
<path d="M840.500 1171 L857 1164.700 L910.400 1171.600 L905.200 1179 L889 1179 L859.400 1173.500 L846 1176Z" fill="#1c1c1c"/><path d="M866 1168.500 L886 1171 L884 1175.500 L864 1172Z" fill="#fff"/><ellipse cx="850.500" cy="1169.800" rx="3.200" ry="1.300" fill="#f2f2f2" transform="rotate(-15 850.500 1169.800)"/><ellipse cx="901" cy="1174.800" rx="3.200" ry="1.300" fill="#f2f2f2" transform="rotate(-10 901 1174.800)"/>
<path d="M894 1151 q12 9 33 9" stroke="#111" stroke-width="1.700" fill="none"/>
<path d="M445 1251 C455 1276 480 1286 500 1280 C515 1276 522 1268 528 1258" stroke="#111" stroke-width="1.500" fill="none"/>
<path d="M440.500 1245l7 10" stroke="#555" stroke-width="1.600"/><path d="M445 1250l10 14" stroke="#1a1a1a" stroke-width="4.500"/><path d="M447 1259l6 -4" stroke="#999" stroke-width="1.500"/>
<path d="M516 1271l8 -9" stroke="#111" stroke-width="3.600"/><path d="M524 1262l5 -6" stroke="#bbb" stroke-width="2.400"/>
<g fill="none" stroke-width="1.100"><path d="M580 1270 C600 1250 620 1252 640 1268" stroke="#e8a060"/><path d="M578 1268 C600 1242 626 1240 645 1244" stroke="#ddd"/><path d="M582 1272 C604 1258 624 1258 642 1272" stroke="#243a5a" stroke-width="1.800"/><path d="M584 1274 C604 1264 622 1262 640 1276" stroke="#111" stroke-width="2"/><path d="M590 1268 C604 1254 614 1252 628 1250" stroke="#c9b040"/><path d="M584 1266 C594 1250 610 1244 632 1246" stroke="#d77"/><path d="M598 1276 C612 1272 624 1280 626 1300" stroke="#d99a66"/><path d="M592 1280 q-3 6 -1 12" stroke="#5a7ad0"/><path d="M622 1290 q4 2 4 10" stroke="#bbb"/></g>
<path d="M636 1262 L650 1258 L655 1266 L648 1274 L652 1282 L640 1286 L633 1274Z" fill="#141414"/><rect x="575" y="1274" width="12" height="8" fill="#161616" transform="rotate(-25 581 1278)"/><rect x="575" y="1262" width="9" height="4" fill="#e8dccb" transform="rotate(-30 579 1264)"/><rect x="642" y="1242" width="7" height="3.500" fill="#eee" stroke="#bbb" stroke-width="0.400"/>
<rect x="713.700" y="1268.600" width="28" height="5.400" rx="2.500" fill="#e4e6ee" stroke="#c4c8d4" stroke-width="0.600"/><path d="M741.500 1271.300H777.300" stroke="#333" stroke-width="1.100"/>
<path d="M707 1280.500 Q705.500 1286 708 1291 L760 1291 L783 1288.500 L783.200 1284.500 L760 1281.500 Z" fill="#f2951f"/><path d="M708 1282.500H770" stroke="#f7b65a" stroke-width="1.400"/>
<rect x="724.3" y="1297.500" width="1.500" height="5.800" fill="#222"/>
<rect x="731.1" y="1297.500" width="1.500" height="5.800" fill="#222"/>
<rect x="738.0" y="1297.500" width="1.500" height="5.800" fill="#222"/>
<rect x="744.8" y="1297.500" width="1.500" height="5.800" fill="#222"/>
<rect x="751.7" y="1297.500" width="1.500" height="5.800" fill="#222"/>
<rect x="758.5" y="1297.500" width="1.500" height="5.800" fill="#222"/>
<g fill="none" stroke-linecap="round"><path d="M879.0 1271.4 Q871.9 1283.0 850.7 1299.2" stroke="#222" stroke-width="0.97"/><path d="M879.0 1271.4 Q874.4 1283.0 860.8 1300.2" stroke="#3a2a2a" stroke-width="0.97"/><path d="M879.0 1271.4 Q875.7 1283.0 865.8 1300.2" stroke="#555" stroke-width="0.97"/><path d="M879.0 1271.4 Q877.5 1283.0 872.9 1299.2" stroke="#4a3030" stroke-width="0.97"/><path d="M879.0 1271.4 Q878.8 1283.0 878.3 1299.2" stroke="#777" stroke-width="0.97"/><path d="M879.0 1271.4 Q880.3 1283.0 884.0 1300.2" stroke="#6a2a2a" stroke-width="0.97"/><path d="M879.0 1271.4 Q882.0 1283.0 891.1 1297.2" stroke="#3a2a2a" stroke-width="0.97"/><path d="M879.0 1271.4 Q883.3 1283.0 896.2 1294.7" stroke="#999" stroke-width="0.97"/><path d="M880.0 1271.4 Q891.6 1278.2 899.4 1289.8 T923.4 1306.9" stroke="#222" stroke-width="0.87"/><path d="M877.1 1272.3 Q856.7 1278.2 851.8 1295.6" stroke="#1a1a1a" stroke-width="1.26"/><path d="M850.7 1299.2L846.6 1309.2" stroke="#1e1e1e" stroke-width="5.43"/><path d="M860.8 1300.2L855.7 1311.3" stroke="#efdc1a" stroke-width="5.43"/><circle cx="855.7" cy="1312.1" r="1.46" fill="#b08a6a" stroke="#ddd" stroke-width="0.600"/><path d="M865.8 1300.2L862.8 1311.3" stroke="#efdc1a" stroke-width="5.43"/><circle cx="862.8" cy="1312.1" r="1.46" fill="#b08a6a" stroke="#ddd" stroke-width="0.600"/><path d="M872.9 1299.2L870.3 1308.2" stroke="#2a9a5c" stroke-width="5.43"/><circle cx="870.3" cy="1309.0" r="1.46" fill="#b08a6a" stroke="#ddd" stroke-width="0.600"/><path d="M878.3 1299.2L878.3 1309.2" stroke="#efdc1a" stroke-width="5.43"/><circle cx="878.3" cy="1310.0" r="1.46" fill="#b08a6a" stroke="#ddd" stroke-width="0.600"/><path d="M884.0 1300.2L890.1 1310.2" stroke="#e2543a" stroke-width="5.43"/><circle cx="890.1" cy="1311.0" r="1.46" fill="#b08a6a" stroke="#ddd" stroke-width="0.600"/><path d="M891.1 1297.2L899.2 1305.6" stroke="#e2543a" stroke-width="5.43"/><circle cx="899.2" cy="1306.4" r="1.46" fill="#b08a6a" stroke="#ddd" stroke-width="0.600"/><path d="M896.2 1294.7L906.2 1304.3" stroke="#ececec" stroke-width="5.43"/><circle cx="906.2" cy="1305.0" r="1.46" fill="#b08a6a" stroke="#ddd" stroke-width="0.600"/><rect x="875.1" y="1263.1" width="7.8" height="4.8" fill="#f0f0f0" stroke="#bbb" stroke-width="0.500"/><rect x="875.6" y="1268.0" width="6.8" height="3.9" fill="#222"/></g>
<defs><linearGradient id="manG" x1="0" y1="1" x2="1" y2="0"><stop offset="0" stop-color="#151515"/><stop offset="0.6" stop-color="#2a2a2a"/><stop offset="1" stop-color="#6a6a6a"/></linearGradient></defs>
<path d="M462.900 1376 L513.750 1375 L513.750 1438 L463.300 1437.500 Z" fill="url(#manG)"/>
<path d="M463 1384 L483.300 1392.500 L513.750 1404 L513.750 1434 L479 1420 L463.200 1418.500Z" fill="#c2252b"/>
<path d="M463.300 1421 L480 1423 L513.750 1437 V1438 L463.300 1437.500Z" fill="#161616"/>
<rect x="467.500" y="1395.400" width="40" height="21.300" fill="#173a27"/><rect x="468.800" y="1396.600" width="37.400" height="9" fill="#5aa884"/><path d="M469 1405.600 q4 -7 8 -3 q3 -5 8 -1 q5 -6 10 0 q4 -4 7 -1 q2 -2 4.200 0 v5 h-37.200z" fill="#1f5236"/><rect x="469" y="1410" width="37" height="2" fill="#3f8a62" opacity="0.700"/>
<rect x="472" y="1413.300" width="6.300" height="5.700" fill="#f2f2f2"/><rect x="474.300" y="1415" width="1.700" height="2" fill="#222"/>
<g fill="none" stroke="#111" stroke-linecap="round"><path d="M596 1440 C590 1420 598 1408 602 1396 C606 1384 598 1376 594 1382 C590 1390 600 1404 606 1414 C612 1426 606 1436 602 1440" stroke-width="3.400"/><path d="M604 1376 C612 1380 610 1394 604 1404 C598 1414 592 1426 596 1440" stroke-width="3.200"/><path d="M630 1442 C626 1420 628 1400 626 1388 C625 1378 632 1374 635 1380 C638 1390 634 1408 636 1424 C637 1432 638 1438 640 1440" stroke-width="2.200"/><path d="M633 1376 C640 1384 638 1400 634 1416 C632 1428 632 1438 630 1443" stroke-width="2"/></g>
<rect x="598" y="1434" width="6" height="7" fill="#111"/><rect x="637.500" y="1432" width="3.500" height="5.500" fill="#eee" stroke="#aaa" stroke-width="0.400"/>
<g fill="none" stroke="#1a1a1a"><ellipse cx="742" cy="1421" rx="29" ry="20.500" stroke-width="1.600" transform="rotate(-8 742 1421)"/><ellipse cx="742" cy="1422" rx="26.500" ry="18" stroke-width="1.100" transform="rotate(-8 742 1422)"/><ellipse cx="743" cy="1423" rx="24" ry="15.500" stroke-width="0.900" transform="rotate(-8 743 1423)"/><path d="M745 1424 q-2 8 -10 12" stroke-width="1.200"/></g>
<path d="M734 1403 L754 1401.500 L756.500 1421 L736 1423.500Z" fill="#262626" stroke="#111" stroke-width="0.600"/><path d="M737 1406 L752 1405 L753.500 1418 L739 1419.500Z" fill="#333"/>
<path d="M836 1399 C850 1398 866 1410 880 1414 C888 1416 892 1415 898 1414" stroke="#222" stroke-width="1.300" fill="none"/><path d="M836 1397 L856 1397" stroke="#888" stroke-width="1"/><rect x="829.500" y="1396.500" width="7" height="5.500" fill="#eee" stroke="#bbb" stroke-width="0.500"/><path d="M882 1411l3 4" stroke="#bbb" stroke-width="1.200"/>
<path d="M898 1414 L914 1409.500" stroke="#e8b820" stroke-width="5.600" stroke-linecap="round"/><circle cx="915.500" cy="1409.200" r="2.400" fill="#3a3a3a" stroke="#ddd" stroke-width="0.800"/>
</g>
<text x="460" y="1197" font-size="13" fill="#333">Canbus</text>
<text x="587.700" y="1191" font-size="8.800" font-weight="bold" fill="#111" letter-spacing="0.150">Microphone</text>
<text x="837.500" y="1201" font-size="11.400" fill="#7a7a7a">Rear Camera</text>
<text x="443.300" y="1331" font-size="12.100" fill="#333">Radio Antenna</text>
<text x="581.300" y="1330" font-size="10" font-weight="bold" fill="#111" letter-spacing="0.180">Power Cable</text>
<text x="703.300" y="1326.700" font-size="10.400" fill="#222" letter-spacing="0.250">Installation Tool</text>
<text x="847.200" y="1331.600" font-size="9.800" fill="#7a7a7a">RCA Cable</text>
<text x="458.800" y="1458" font-size="9.500" fill="#6a6a6a" letter-spacing="0.150">User Manual</text>
<text x="584.300" y="1458" font-size="9.500" fill="#6a6a6a" letter-spacing="0.100">USB Cable</text>
<text x="707.200" y="1459.600" font-size="9.500" fill="#6a6a6a" letter-spacing="0.150">GPS Antenna</text>
<g clip-path="url(#c34)"><text x="823.800" y="1463" font-size="8.700" fill="#777">Rear Camera Input Cable</text></g>
</svg>
</body>
</html>
